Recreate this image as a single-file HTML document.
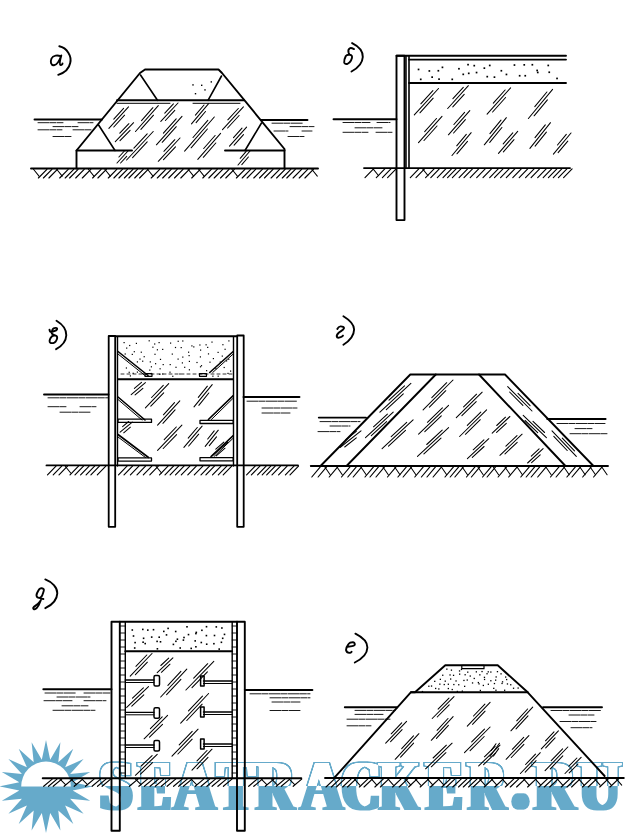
<!DOCTYPE html>
<html><head><meta charset="utf-8"><style>
html,body{margin:0;padding:0;background:#fff;}
svg{display:block;}
</style></head><body>
<svg width="632" height="833" viewBox="0 0 632 833">
<defs>
<clipPath id="top"><rect x="0" y="0" width="632" height="786"/></clipPath>
<clipPath id="bot"><rect x="0" y="786" width="632" height="60"/></clipPath>
<filter id="fat" x="-5%" y="-30%" width="110%" height="160%">
<feMorphology in="SourceAlpha" operator="dilate" radius="3 0" result="fat"/>
<feFlood flood-color="#66aaca"/>
<feComposite in2="fat" operator="in"/>
</filter>
<filter id="outl" x="-5%" y="-30%" width="110%" height="160%">
<feMorphology in="SourceAlpha" operator="dilate" radius="3 0" result="fat"/>
<feMorphology in="fat" operator="dilate" radius="1" result="fat2"/>
<feMorphology in="fat" operator="erode" radius="0.5" result="fat3"/>
<feComposite in="fat2" in2="fat" operator="out" result="ring0"/>
<feComponentTransfer in="ring0" result="ring"><feFuncA type="linear" slope="1.7"/></feComponentTransfer>
<feFlood flood-color="#66aaca"/>
<feComposite in2="ring" operator="in"/>
</filter>
</defs>
<rect width="632" height="833" fill="#fff"/>
<polygon points="46.0,739.9 50.2,759.7 60.4,742.2 58.3,762.3 73.3,748.8 65.1,767.3 83.6,759.1 70.1,774.1 90.2,772.0 72.7,782.2 92.5,786.4 72.7,790.6 90.2,800.8 70.1,798.7 83.6,813.7 65.1,805.5 73.3,824.0 58.3,810.5 60.4,830.6 50.2,813.1 46.0,832.9 41.8,813.1 31.6,830.6 33.7,810.5 18.7,824.0 26.9,805.5 8.4,813.7 21.9,798.7 1.8,800.8 19.3,790.6 -0.5,786.4 19.3,782.2 1.8,772.0 21.9,774.1 8.4,759.1 26.9,767.3 18.7,748.8 33.7,762.3 31.6,742.2 41.8,759.7" fill="#66aaca" stroke="none"/><path d="M21.2 786.4 A24.8 24.8 0 0 1 70.8 786.4 Z" fill="#fff" stroke="none"/>
<g font-family="Liberation Serif" font-weight="bold" font-size="72.8">
<g clip-path="url(#top)"><g filter="url(#outl)" fill="#000"><text transform="translate(100.09,0) scale(0.8003,1)" x="0" y="809.8">S</text><text transform="translate(139.40,0) scale(0.6379,1)" x="0" y="809.8">E</text><text transform="translate(173.56,0) scale(0.8004,1)" x="0" y="809.8">A</text><text transform="translate(217.63,0) scale(0.7451,1)" x="0" y="809.8">T</text><text transform="translate(256.30,0) scale(0.7125,1)" x="0" y="809.8">R</text><text transform="translate(300.45,0) scale(0.8082,1)" x="0" y="809.8">A</text><text transform="translate(341.89,0) scale(0.7260,1)" x="0" y="809.8">C</text><text transform="translate(379.64,0) scale(0.6838,1)" x="0" y="809.8">K</text><text transform="translate(426.47,0) scale(0.7342,1)" x="0" y="809.8">E</text><text transform="translate(468.61,0) scale(0.7048,1)" x="0" y="809.8">R</text><ellipse cx="520.5" cy="801.5" rx="6.2" ry="8.2" fill="#000"/><text transform="translate(533.91,0) scale(0.7818,1)" x="0" y="809.8">R</text><text transform="translate(579.05,0) scale(0.7870,1)" x="0" y="809.8">U</text></g></g>
<g clip-path="url(#bot)"><g filter="url(#fat)" fill="#000"><text transform="translate(100.09,0) scale(0.8003,1)" x="0" y="809.8">S</text><text transform="translate(139.40,0) scale(0.6379,1)" x="0" y="809.8">E</text><text transform="translate(173.56,0) scale(0.8004,1)" x="0" y="809.8">A</text><text transform="translate(217.63,0) scale(0.7451,1)" x="0" y="809.8">T</text><text transform="translate(256.30,0) scale(0.7125,1)" x="0" y="809.8">R</text><text transform="translate(300.45,0) scale(0.8082,1)" x="0" y="809.8">A</text><text transform="translate(341.89,0) scale(0.7260,1)" x="0" y="809.8">C</text><text transform="translate(379.64,0) scale(0.6838,1)" x="0" y="809.8">K</text><text transform="translate(426.47,0) scale(0.7342,1)" x="0" y="809.8">E</text><text transform="translate(468.61,0) scale(0.7048,1)" x="0" y="809.8">R</text><ellipse cx="520.5" cy="801.5" rx="6.2" ry="8.2" fill="#000"/><text transform="translate(533.91,0) scale(0.7818,1)" x="0" y="809.8">R</text><text transform="translate(579.05,0) scale(0.7870,1)" x="0" y="809.8">U</text></g></g>
</g>
<g stroke="#000" stroke-linecap="round" stroke-linejoin="round" fill="none">
<path d="M59.3 46.3 C67 48 72 56 70.2 63 C69 69 64 73 58.2 74.8" stroke-width="1.9" fill="none"/>
<path d="M60.5 56.2 C58 55 53 55 51.5 58.5 C50 62 51 65.5 54 65.3 C57 65 59 62 61.3 55.5 C60 60 59 64 60.5 65 C61.5 65.5 62.5 64 62.5 63.5" stroke-width="1.9" fill="none"/>
<polyline points="76.5,168.5 76.5,150.5 140.0,73.0 145.0,69.5 218.5,69.5 222.0,73.0 284.5,149.0 284.5,168.5" stroke-width="1.9" fill="none"/>
<line x1="117.0" y1="100.3" x2="244.0" y2="100.3" stroke-width="1.9"/>
<line x1="117.0" y1="103.3" x2="170.0" y2="103.3" stroke-width="1.0"/>
<line x1="193.0" y1="103.3" x2="240.0" y2="103.3" stroke-width="1.0"/>
<line x1="140.5" y1="75.0" x2="157.5" y2="100.3" stroke-width="1.6"/>
<line x1="221.5" y1="76.0" x2="208.0" y2="100.3" stroke-width="1.6"/>
<line x1="98.6" y1="125.0" x2="115.0" y2="150.5" stroke-width="1.6"/>
<line x1="261.5" y1="123.0" x2="245.0" y2="150.5" stroke-width="1.6"/>
<line x1="76.5" y1="150.5" x2="132.0" y2="150.5" stroke-width="1.9"/>
<line x1="225.0" y1="150.5" x2="284.5" y2="150.5" stroke-width="1.9"/>
<line x1="34.5" y1="119.5" x2="102.0" y2="119.5" stroke-width="1.9"/>
<line x1="38.0" y1="122.7" x2="63.0" y2="122.7" stroke-width="0.9" stroke-dasharray="11 1 6 1.2"/>
<line x1="78.0" y1="122.7" x2="93.0" y2="122.7" stroke-width="0.9" stroke-dasharray="11 1 6 1.2"/>
<line x1="53.0" y1="126.6" x2="78.0" y2="126.6" stroke-width="0.9" stroke-dasharray="11 1 6 1.2"/>
<line x1="38.0" y1="129.8" x2="62.0" y2="129.8" stroke-width="0.9" stroke-dasharray="11 1 6 1.2"/>
<line x1="73.0" y1="129.8" x2="91.0" y2="129.8" stroke-width="0.9" stroke-dasharray="11 1 6 1.2"/>
<line x1="53.0" y1="136.5" x2="72.0" y2="136.5" stroke-width="0.9" stroke-dasharray="11 1 6 1.2"/>
<line x1="261.0" y1="120.0" x2="307.5" y2="120.0" stroke-width="1.9"/>
<line x1="272.0" y1="123.2" x2="303.0" y2="123.2" stroke-width="0.9" stroke-dasharray="11 1 6 1.2"/>
<line x1="290.0" y1="126.6" x2="314.0" y2="126.6" stroke-width="0.9" stroke-dasharray="11 1 6 1.2"/>
<line x1="274.0" y1="131.0" x2="288.0" y2="131.0" stroke-width="0.9" stroke-dasharray="11 1 6 1.2"/>
<line x1="302.0" y1="131.0" x2="312.0" y2="131.0" stroke-width="0.9" stroke-dasharray="11 1 6 1.2"/>
<line x1="288.0" y1="136.5" x2="304.0" y2="136.5" stroke-width="0.9" stroke-dasharray="11 1 6 1.2"/>
<line x1="31.0" y1="168.5" x2="318.0" y2="168.5" stroke-width="1.9"/>
<line x1="33.5" y1="169.3" x2="39.0" y2="176.1" stroke-width="1.03"/>
<line x1="38.4" y1="178.0" x2="46.9" y2="169.3" stroke-width="1.15"/>
<line x1="43.4" y1="178.0" x2="51.9" y2="169.3" stroke-width="1.15"/>
<line x1="48.9" y1="178.0" x2="57.4" y2="169.3" stroke-width="1.15"/>
<line x1="56.7" y1="169.3" x2="62.2" y2="176.1" stroke-width="1.03"/>
<line x1="59.7" y1="178.0" x2="68.2" y2="169.3" stroke-width="1.15"/>
<line x1="65.2" y1="178.0" x2="73.7" y2="169.3" stroke-width="1.15"/>
<line x1="69.6" y1="178.0" x2="78.1" y2="169.3" stroke-width="1.15"/>
<line x1="75.7" y1="178.0" x2="84.2" y2="169.3" stroke-width="1.15"/>
<line x1="82.3" y1="178.0" x2="90.8" y2="169.3" stroke-width="1.15"/>
<line x1="88.4" y1="169.3" x2="93.9" y2="176.1" stroke-width="1.03"/>
<line x1="92.6" y1="178.0" x2="101.1" y2="169.3" stroke-width="1.15"/>
<line x1="97.9" y1="178.0" x2="106.4" y2="169.3" stroke-width="1.15"/>
<line x1="104.8" y1="169.3" x2="110.3" y2="176.1" stroke-width="1.03"/>
<line x1="108.3" y1="178.0" x2="116.8" y2="169.3" stroke-width="1.15"/>
<line x1="113.9" y1="178.0" x2="122.4" y2="169.3" stroke-width="1.15"/>
<line x1="118.9" y1="178.0" x2="127.4" y2="169.3" stroke-width="1.15"/>
<line x1="124.4" y1="178.0" x2="132.9" y2="169.3" stroke-width="1.15"/>
<line x1="128.9" y1="178.0" x2="137.4" y2="169.3" stroke-width="1.15"/>
<line x1="134.7" y1="178.0" x2="143.2" y2="169.3" stroke-width="1.15"/>
<line x1="139.6" y1="178.0" x2="148.1" y2="169.3" stroke-width="1.15"/>
<line x1="147.5" y1="169.3" x2="153.0" y2="176.1" stroke-width="1.03"/>
<line x1="151.2" y1="178.0" x2="159.7" y2="169.3" stroke-width="1.15"/>
<line x1="157.3" y1="178.0" x2="165.8" y2="169.3" stroke-width="1.15"/>
<line x1="162.7" y1="178.0" x2="171.2" y2="169.3" stroke-width="1.15"/>
<line x1="168.7" y1="178.0" x2="177.2" y2="169.3" stroke-width="1.15"/>
<line x1="174.5" y1="178.0" x2="183.0" y2="169.3" stroke-width="1.15"/>
<line x1="180.8" y1="178.0" x2="189.3" y2="169.3" stroke-width="1.15"/>
<line x1="188.1" y1="169.3" x2="193.6" y2="176.1" stroke-width="1.03"/>
<line x1="191.7" y1="178.0" x2="200.2" y2="169.3" stroke-width="1.15"/>
<line x1="198.6" y1="169.3" x2="204.1" y2="176.1" stroke-width="1.03"/>
<line x1="202.8" y1="178.0" x2="211.3" y2="169.3" stroke-width="1.15"/>
<line x1="208.8" y1="178.0" x2="217.3" y2="169.3" stroke-width="1.15"/>
<line x1="214.2" y1="178.0" x2="222.7" y2="169.3" stroke-width="1.15"/>
<line x1="220.5" y1="178.0" x2="229.0" y2="169.3" stroke-width="1.15"/>
<line x1="225.8" y1="178.0" x2="234.3" y2="169.3" stroke-width="1.15"/>
<line x1="231.9" y1="169.3" x2="237.4" y2="176.1" stroke-width="1.03"/>
<line x1="236.4" y1="178.0" x2="244.9" y2="169.3" stroke-width="1.15"/>
<line x1="242.2" y1="178.0" x2="250.7" y2="169.3" stroke-width="1.15"/>
<line x1="247.1" y1="178.0" x2="255.6" y2="169.3" stroke-width="1.15"/>
<line x1="253.8" y1="178.0" x2="262.3" y2="169.3" stroke-width="1.15"/>
<line x1="259.5" y1="178.0" x2="268.0" y2="169.3" stroke-width="1.15"/>
<line x1="264.5" y1="178.0" x2="273.0" y2="169.3" stroke-width="1.15"/>
<line x1="271.1" y1="178.0" x2="279.6" y2="169.3" stroke-width="1.15"/>
<line x1="276.6" y1="178.0" x2="285.1" y2="169.3" stroke-width="1.15"/>
<line x1="282.3" y1="178.0" x2="290.8" y2="169.3" stroke-width="1.15"/>
<line x1="286.8" y1="178.0" x2="295.3" y2="169.3" stroke-width="1.15"/>
<line x1="293.1" y1="178.0" x2="301.6" y2="169.3" stroke-width="1.15"/>
<line x1="299.2" y1="178.0" x2="307.7" y2="169.3" stroke-width="1.15"/>
<line x1="304.9" y1="178.0" x2="313.4" y2="169.3" stroke-width="1.15"/>
<line x1="311.8" y1="169.3" x2="317.3" y2="176.1" stroke-width="1.03"/>
<line x1="108.9" y1="128.4" x2="128.5" y2="106.9" stroke-width="1.05"/>
<line x1="113.8" y1="127.0" x2="124.6" y2="115.2" stroke-width="1.05"/>
<line x1="113.8" y1="119.1" x2="123.6" y2="108.3" stroke-width="1.05"/>
<line x1="115.3" y1="141.7" x2="133.6" y2="122.7" stroke-width="1.05"/>
<line x1="120.0" y1="140.7" x2="130.1" y2="130.3" stroke-width="1.05"/>
<line x1="119.8" y1="133.2" x2="128.9" y2="123.7" stroke-width="1.05"/>
<line x1="135.5" y1="131.5" x2="158.3" y2="105.6" stroke-width="1.05"/>
<line x1="140.9" y1="129.4" x2="153.5" y2="115.2" stroke-width="1.05"/>
<line x1="141.5" y1="120.7" x2="152.9" y2="107.7" stroke-width="1.05"/>
<line x1="126.6" y1="160.0" x2="153.2" y2="131.5" stroke-width="1.05"/>
<line x1="132.6" y1="157.6" x2="147.2" y2="141.9" stroke-width="1.05"/>
<line x1="133.9" y1="148.2" x2="147.2" y2="133.9" stroke-width="1.05"/>
<line x1="156.4" y1="144.8" x2="182.0" y2="116.4" stroke-width="1.05"/>
<line x1="162.2" y1="142.3" x2="176.3" y2="126.7" stroke-width="1.05"/>
<line x1="163.4" y1="133.1" x2="176.2" y2="118.9" stroke-width="1.05"/>
<line x1="158.3" y1="161.3" x2="180.0" y2="138.0" stroke-width="1.05"/>
<line x1="163.5" y1="159.6" x2="175.5" y2="146.8" stroke-width="1.05"/>
<line x1="163.9" y1="151.3" x2="174.8" y2="139.7" stroke-width="1.05"/>
<line x1="160.8" y1="121.4" x2="178.0" y2="103.0" stroke-width="1.05"/>
<line x1="165.4" y1="120.5" x2="174.8" y2="110.4" stroke-width="1.05"/>
<line x1="164.8" y1="113.1" x2="173.4" y2="103.9" stroke-width="1.05"/>
<line x1="191.5" y1="123.9" x2="208.6" y2="103.7" stroke-width="1.05"/>
<line x1="196.1" y1="122.6" x2="205.5" y2="111.5" stroke-width="1.05"/>
<line x1="195.4" y1="115.1" x2="204.0" y2="105.0" stroke-width="1.05"/>
<line x1="184.6" y1="151.2" x2="214.3" y2="117.0" stroke-width="1.05"/>
<line x1="191.1" y1="147.8" x2="207.4" y2="129.0" stroke-width="1.05"/>
<line x1="193.0" y1="137.5" x2="207.8" y2="120.4" stroke-width="1.05"/>
<line x1="197.8" y1="159.4" x2="220.6" y2="133.4" stroke-width="1.05"/>
<line x1="203.3" y1="157.3" x2="215.8" y2="143.0" stroke-width="1.05"/>
<line x1="203.7" y1="148.5" x2="215.1" y2="135.5" stroke-width="1.05"/>
<line x1="222.5" y1="129.6" x2="243.4" y2="106.9" stroke-width="1.05"/>
<line x1="227.6" y1="128.0" x2="239.1" y2="115.5" stroke-width="1.05"/>
<line x1="227.8" y1="119.8" x2="238.3" y2="108.5" stroke-width="1.05"/>
<line x1="229.5" y1="146.1" x2="246.6" y2="127.1" stroke-width="1.05"/>
<line x1="234.1" y1="145.1" x2="243.5" y2="134.6" stroke-width="1.05"/>
<line x1="233.5" y1="137.6" x2="242.0" y2="128.1" stroke-width="1.05"/>
<line x1="238.0" y1="165.0" x2="250.0" y2="151.0" stroke-width="1.05"/>
<line x1="241.8" y1="164.7" x2="248.4" y2="157.0" stroke-width="1.05"/>
<line x1="240.2" y1="158.3" x2="246.2" y2="151.3" stroke-width="1.05"/>
<line x1="117.0" y1="163.0" x2="128.0" y2="151.0" stroke-width="1.05"/>
<line x1="120.6" y1="163.0" x2="126.7" y2="156.4" stroke-width="1.05"/>
<line x1="118.9" y1="157.0" x2="124.4" y2="151.0" stroke-width="1.05"/>
<rect x="192.3" y="84.2" width="1.4" height="1.4" fill="#000" stroke="none"/>
<rect x="201.0" y="84.6" width="1.4" height="1.4" fill="#000" stroke="none"/>
<rect x="210.6" y="81.2" width="1.4" height="1.4" fill="#000" stroke="none"/>
<rect x="194.8" y="93.0" width="1.4" height="1.4" fill="#000" stroke="none"/>
<rect x="204.3" y="89.2" width="1.4" height="1.4" fill="#000" stroke="none"/>
<path d="M352.1 43.1 C358 46 363 51 362.8 57 C362.5 63 358 68 351.5 71.5" stroke-width="1.9" fill="none"/>
<path d="M354 49.1 C352.5 48.3 351 47.8 350.2 48.1 C348.5 48.8 347.8 50 348.6 52.6 C349 53.8 349.6 54.8 349.6 54.8 C348 54.6 346.5 55 345.8 56 C344.8 58 343.9 61 344.2 62.5 C344.6 64 346.4 64.2 347.5 63.8 C349 63.3 350 62.4 351 60.5 C352 58.5 352.3 57 352 56.2 C351.5 55.2 350.5 54.8 349.6 54.8" stroke-width="1.9" fill="none"/>
<rect x="396.5" y="55.8" width="8" height="164.3" fill="none" stroke-width="1.9"/>
<line x1="406.0" y1="56.0" x2="406.0" y2="167.5" stroke-width="1.5"/>
<line x1="409.0" y1="56.0" x2="409.0" y2="167.5" stroke-width="1.6"/>
<line x1="396.5" y1="55.8" x2="566.0" y2="55.8" stroke-width="1.9"/>
<line x1="409.0" y1="59.6" x2="566.0" y2="59.6" stroke-width="1.9"/>
<line x1="409.0" y1="83.0" x2="566.0" y2="83.0" stroke-width="1.9"/>
<rect x="417.7" y="68.6" width="1.7" height="1.7" fill="#000" stroke="none"/>
<rect x="428.5" y="70.1" width="1.7" height="1.7" fill="#000" stroke="none"/>
<rect x="437.5" y="69.9" width="1.7" height="1.7" fill="#000" stroke="none"/>
<rect x="441.6" y="66.5" width="1.7" height="1.7" fill="#000" stroke="none"/>
<rect x="458.1" y="67.9" width="1.7" height="1.7" fill="#000" stroke="none"/>
<rect x="467.2" y="63.8" width="1.7" height="1.7" fill="#000" stroke="none"/>
<rect x="473.4" y="64.8" width="1.7" height="1.7" fill="#000" stroke="none"/>
<rect x="483.5" y="67.3" width="1.7" height="1.7" fill="#000" stroke="none"/>
<rect x="488.9" y="64.6" width="1.7" height="1.7" fill="#000" stroke="none"/>
<rect x="500.5" y="69.9" width="1.7" height="1.7" fill="#000" stroke="none"/>
<rect x="513.6" y="64.2" width="1.7" height="1.7" fill="#000" stroke="none"/>
<rect x="523.4" y="64.0" width="1.7" height="1.7" fill="#000" stroke="none"/>
<rect x="531.5" y="63.9" width="1.7" height="1.7" fill="#000" stroke="none"/>
<rect x="536.3" y="69.6" width="1.7" height="1.7" fill="#000" stroke="none"/>
<rect x="547.4" y="64.6" width="1.7" height="1.7" fill="#000" stroke="none"/>
<rect x="419.9" y="78.5" width="1.7" height="1.7" fill="#000" stroke="none"/>
<rect x="431.3" y="76.3" width="1.7" height="1.7" fill="#000" stroke="none"/>
<rect x="438.2" y="78.3" width="1.7" height="1.7" fill="#000" stroke="none"/>
<rect x="451.4" y="78.5" width="1.7" height="1.7" fill="#000" stroke="none"/>
<rect x="462.4" y="73.5" width="1.7" height="1.7" fill="#000" stroke="none"/>
<rect x="467.9" y="72.5" width="1.7" height="1.7" fill="#000" stroke="none"/>
<rect x="475.7" y="71.7" width="1.7" height="1.7" fill="#000" stroke="none"/>
<rect x="486.4" y="75.8" width="1.7" height="1.7" fill="#000" stroke="none"/>
<rect x="493.6" y="76.3" width="1.7" height="1.7" fill="#000" stroke="none"/>
<rect x="505.6" y="73.6" width="1.7" height="1.7" fill="#000" stroke="none"/>
<rect x="518.8" y="74.9" width="1.7" height="1.7" fill="#000" stroke="none"/>
<rect x="524.4" y="74.9" width="1.7" height="1.7" fill="#000" stroke="none"/>
<rect x="536.9" y="71.6" width="1.7" height="1.7" fill="#000" stroke="none"/>
<rect x="548.4" y="71.4" width="1.7" height="1.7" fill="#000" stroke="none"/>
<rect x="556.2" y="77.6" width="1.7" height="1.7" fill="#000" stroke="none"/>
<line x1="333.5" y1="119.3" x2="396.5" y2="119.3" stroke-width="1.9"/>
<line x1="343.0" y1="122.5" x2="370.0" y2="122.5" stroke-width="0.9" stroke-dasharray="11 1 6 1.2"/>
<line x1="377.0" y1="122.5" x2="390.0" y2="122.5" stroke-width="0.9" stroke-dasharray="11 1 6 1.2"/>
<line x1="355.0" y1="127.8" x2="382.0" y2="127.8" stroke-width="0.9" stroke-dasharray="11 1 6 1.2"/>
<line x1="343.0" y1="132.3" x2="368.0" y2="132.3" stroke-width="0.9" stroke-dasharray="11 1 6 1.2"/>
<line x1="376.0" y1="132.3" x2="392.0" y2="132.3" stroke-width="0.9" stroke-dasharray="11 1 6 1.2"/>
<line x1="364.0" y1="168.1" x2="570.0" y2="168.1" stroke-width="1.9"/>
<line x1="365.0" y1="177.6" x2="373.5" y2="168.9" stroke-width="1.15"/>
<line x1="373.1" y1="168.9" x2="378.6" y2="175.7" stroke-width="1.03"/>
<line x1="376.3" y1="177.6" x2="384.8" y2="168.9" stroke-width="1.15"/>
<line x1="382.4" y1="177.6" x2="390.9" y2="168.9" stroke-width="1.15"/>
<line x1="387.6" y1="177.6" x2="396.1" y2="168.9" stroke-width="1.15"/>
<line x1="410.3" y1="177.6" x2="418.8" y2="168.9" stroke-width="1.15"/>
<line x1="416.0" y1="177.6" x2="424.5" y2="168.9" stroke-width="1.15"/>
<line x1="422.6" y1="168.9" x2="428.1" y2="175.7" stroke-width="1.03"/>
<line x1="425.6" y1="177.6" x2="434.1" y2="168.9" stroke-width="1.15"/>
<line x1="430.8" y1="177.6" x2="439.3" y2="168.9" stroke-width="1.15"/>
<line x1="437.3" y1="177.6" x2="445.8" y2="168.9" stroke-width="1.15"/>
<line x1="443.0" y1="177.6" x2="451.5" y2="168.9" stroke-width="1.15"/>
<line x1="447.6" y1="177.6" x2="456.1" y2="168.9" stroke-width="1.15"/>
<line x1="452.4" y1="177.6" x2="460.9" y2="168.9" stroke-width="1.15"/>
<line x1="459.1" y1="177.6" x2="467.6" y2="168.9" stroke-width="1.15"/>
<line x1="464.0" y1="177.6" x2="472.5" y2="168.9" stroke-width="1.15"/>
<line x1="470.2" y1="177.6" x2="478.7" y2="168.9" stroke-width="1.15"/>
<line x1="476.7" y1="177.6" x2="485.2" y2="168.9" stroke-width="1.15"/>
<line x1="483.0" y1="177.6" x2="491.5" y2="168.9" stroke-width="1.15"/>
<line x1="489.7" y1="177.6" x2="498.2" y2="168.9" stroke-width="1.15"/>
<line x1="494.5" y1="177.6" x2="503.0" y2="168.9" stroke-width="1.15"/>
<line x1="500.6" y1="177.6" x2="509.1" y2="168.9" stroke-width="1.15"/>
<line x1="506.3" y1="177.6" x2="514.8" y2="168.9" stroke-width="1.15"/>
<line x1="512.8" y1="177.6" x2="521.3" y2="168.9" stroke-width="1.15"/>
<line x1="519.2" y1="177.6" x2="527.7" y2="168.9" stroke-width="1.15"/>
<line x1="525.6" y1="177.6" x2="534.1" y2="168.9" stroke-width="1.15"/>
<line x1="531.1" y1="177.6" x2="539.6" y2="168.9" stroke-width="1.15"/>
<line x1="537.7" y1="177.6" x2="546.2" y2="168.9" stroke-width="1.15"/>
<line x1="543.2" y1="177.6" x2="551.7" y2="168.9" stroke-width="1.15"/>
<line x1="548.4" y1="177.6" x2="556.9" y2="168.9" stroke-width="1.15"/>
<line x1="553.3" y1="177.6" x2="561.8" y2="168.9" stroke-width="1.15"/>
<line x1="558.4" y1="177.6" x2="566.9" y2="168.9" stroke-width="1.15"/>
<line x1="563.6" y1="177.6" x2="572.1" y2="168.9" stroke-width="1.15"/>
<line x1="414.3" y1="114.9" x2="438.5" y2="88.5" stroke-width="1.05"/>
<line x1="419.9" y1="112.8" x2="433.2" y2="98.2" stroke-width="1.05"/>
<line x1="420.8" y1="103.8" x2="432.9" y2="90.6" stroke-width="1.05"/>
<line x1="447.7" y1="108.5" x2="468.4" y2="85.7" stroke-width="1.05"/>
<line x1="452.8" y1="106.9" x2="464.2" y2="94.4" stroke-width="1.05"/>
<line x1="452.9" y1="98.7" x2="463.3" y2="87.3" stroke-width="1.05"/>
<line x1="418.5" y1="142.7" x2="442.0" y2="116.3" stroke-width="1.05"/>
<line x1="424.0" y1="140.5" x2="437.0" y2="126.0" stroke-width="1.05"/>
<line x1="424.7" y1="131.7" x2="436.5" y2="118.5" stroke-width="1.05"/>
<line x1="448.4" y1="134.8" x2="469.8" y2="110.6" stroke-width="1.05"/>
<line x1="453.6" y1="133.0" x2="465.4" y2="119.6" stroke-width="1.05"/>
<line x1="453.9" y1="124.5" x2="464.6" y2="112.4" stroke-width="1.05"/>
<line x1="452.0" y1="155.5" x2="471.2" y2="132.7" stroke-width="1.05"/>
<line x1="456.9" y1="153.8" x2="467.5" y2="141.3" stroke-width="1.05"/>
<line x1="456.7" y1="145.8" x2="466.3" y2="134.4" stroke-width="1.05"/>
<line x1="487.1" y1="114.2" x2="510.6" y2="87.8" stroke-width="1.05"/>
<line x1="492.6" y1="112.0" x2="505.6" y2="97.5" stroke-width="1.05"/>
<line x1="493.3" y1="103.2" x2="505.1" y2="90.0" stroke-width="1.05"/>
<line x1="528.4" y1="118.5" x2="552.6" y2="89.3" stroke-width="1.05"/>
<line x1="534.1" y1="115.8" x2="547.4" y2="99.8" stroke-width="1.05"/>
<line x1="534.8" y1="106.6" x2="546.9" y2="92.0" stroke-width="1.05"/>
<line x1="484.3" y1="144.8" x2="506.4" y2="117.7" stroke-width="1.05"/>
<line x1="489.7" y1="142.4" x2="501.9" y2="127.5" stroke-width="1.05"/>
<line x1="489.9" y1="133.6" x2="501.0" y2="120.1" stroke-width="1.05"/>
<line x1="498.5" y1="153.4" x2="517.7" y2="131.3" stroke-width="1.05"/>
<line x1="503.4" y1="151.9" x2="514.0" y2="139.7" stroke-width="1.05"/>
<line x1="503.2" y1="143.9" x2="512.8" y2="132.8" stroke-width="1.05"/>
<line x1="529.9" y1="148.4" x2="550.5" y2="122.7" stroke-width="1.05"/>
<line x1="535.1" y1="146.2" x2="546.4" y2="132.1" stroke-width="1.05"/>
<line x1="535.0" y1="137.7" x2="545.3" y2="124.9" stroke-width="1.05"/>
<line x1="553.4" y1="154.1" x2="571.0" y2="133.0" stroke-width="1.05"/>
<line x1="558.1" y1="152.7" x2="567.8" y2="141.1" stroke-width="1.05"/>
<line x1="557.5" y1="145.0" x2="566.3" y2="134.4" stroke-width="1.05"/>
<path d="M56.5 320.7 C62 324 66.5 329 66.3 335.3 C66 342 62 346 56.1 349.2" stroke-width="1.9" fill="none"/>
<path d="M49.5 329.6 C49.6 331 50.1 331.8 51 331.8 C53 331.8 57.5 330.5 57.1 328.6 C56.8 327.5 54.5 327.8 53.6 328.3 C52.5 329 51.8 331.5 51.8 333.5 C52.5 334.8 55 335 56.5 336 C57.5 337 57 339.5 55.8 341.3 C54.5 343 52 343.6 50.5 342.8 C49 342 49.5 340 50.6 338 C51.5 336.5 53 335.6 54 335.5" stroke-width="1.9" fill="none"/>
<rect x="108.7" y="336" width="6.5" height="190.8" fill="none" stroke-width="1.8"/>
<rect x="237.2" y="335.5" width="6.5" height="191.3" fill="none" stroke-width="1.8"/>
<line x1="117.5" y1="337.0" x2="117.5" y2="466.0" stroke-width="1.4"/>
<line x1="233.5" y1="337.0" x2="233.5" y2="466.0" stroke-width="1.4"/>
<line x1="115.5" y1="336.2" x2="236.5" y2="336.2" stroke-width="1.9"/>
<line x1="118.0" y1="379.3" x2="233.0" y2="379.3" stroke-width="1.9"/>
<rect x="123.5" y="342.0" width="1.2" height="1.2" fill="#000" stroke="none"/>
<rect x="129.1" y="344.9" width="1.2" height="1.2" fill="#000" stroke="none"/>
<rect x="135.8" y="342.8" width="1.2" height="1.2" fill="#000" stroke="none"/>
<rect x="148.6" y="340.2" width="1.2" height="1.2" fill="#000" stroke="none"/>
<rect x="154.1" y="343.4" width="1.2" height="1.2" fill="#000" stroke="none"/>
<rect x="158.5" y="342.0" width="1.2" height="1.2" fill="#000" stroke="none"/>
<rect x="170.0" y="342.5" width="1.2" height="1.2" fill="#000" stroke="none"/>
<rect x="177.6" y="340.7" width="1.2" height="1.2" fill="#000" stroke="none"/>
<rect x="182.2" y="340.4" width="1.2" height="1.2" fill="#000" stroke="none"/>
<rect x="191.3" y="345.3" width="1.2" height="1.2" fill="#000" stroke="none"/>
<rect x="199.3" y="344.4" width="1.2" height="1.2" fill="#000" stroke="none"/>
<rect x="205.5" y="344.2" width="1.2" height="1.2" fill="#000" stroke="none"/>
<rect x="211.4" y="341.5" width="1.2" height="1.2" fill="#000" stroke="none"/>
<rect x="222.3" y="344.1" width="1.2" height="1.2" fill="#000" stroke="none"/>
<rect x="228.3" y="340.3" width="1.2" height="1.2" fill="#000" stroke="none"/>
<rect x="126.1" y="347.5" width="1.2" height="1.2" fill="#000" stroke="none"/>
<rect x="133.7" y="351.1" width="1.2" height="1.2" fill="#000" stroke="none"/>
<rect x="140.7" y="351.6" width="1.2" height="1.2" fill="#000" stroke="none"/>
<rect x="152.3" y="346.6" width="1.2" height="1.2" fill="#000" stroke="none"/>
<rect x="156.8" y="349.2" width="1.2" height="1.2" fill="#000" stroke="none"/>
<rect x="162.1" y="348.8" width="1.2" height="1.2" fill="#000" stroke="none"/>
<rect x="174.9" y="346.9" width="1.2" height="1.2" fill="#000" stroke="none"/>
<rect x="180.6" y="347.0" width="1.2" height="1.2" fill="#000" stroke="none"/>
<rect x="188.0" y="351.6" width="1.2" height="1.2" fill="#000" stroke="none"/>
<rect x="193.2" y="346.3" width="1.2" height="1.2" fill="#000" stroke="none"/>
<rect x="200.0" y="349.5" width="1.2" height="1.2" fill="#000" stroke="none"/>
<rect x="207.1" y="346.8" width="1.2" height="1.2" fill="#000" stroke="none"/>
<rect x="217.5" y="351.8" width="1.2" height="1.2" fill="#000" stroke="none"/>
<rect x="224.5" y="348.7" width="1.2" height="1.2" fill="#000" stroke="none"/>
<rect x="124.6" y="353.4" width="1.2" height="1.2" fill="#000" stroke="none"/>
<rect x="131.7" y="353.8" width="1.2" height="1.2" fill="#000" stroke="none"/>
<rect x="139.4" y="358.5" width="1.2" height="1.2" fill="#000" stroke="none"/>
<rect x="143.6" y="356.1" width="1.2" height="1.2" fill="#000" stroke="none"/>
<rect x="154.4" y="353.7" width="1.2" height="1.2" fill="#000" stroke="none"/>
<rect x="159.9" y="358.8" width="1.2" height="1.2" fill="#000" stroke="none"/>
<rect x="171.7" y="353.5" width="1.2" height="1.2" fill="#000" stroke="none"/>
<rect x="177.5" y="358.5" width="1.2" height="1.2" fill="#000" stroke="none"/>
<rect x="182.2" y="356.5" width="1.2" height="1.2" fill="#000" stroke="none"/>
<rect x="188.5" y="355.0" width="1.2" height="1.2" fill="#000" stroke="none"/>
<rect x="199.8" y="356.3" width="1.2" height="1.2" fill="#000" stroke="none"/>
<rect x="207.9" y="353.3" width="1.2" height="1.2" fill="#000" stroke="none"/>
<rect x="212.8" y="358.0" width="1.2" height="1.2" fill="#000" stroke="none"/>
<rect x="221.7" y="355.5" width="1.2" height="1.2" fill="#000" stroke="none"/>
<rect x="228.2" y="358.7" width="1.2" height="1.2" fill="#000" stroke="none"/>
<rect x="127.9" y="359.4" width="1.2" height="1.2" fill="#000" stroke="none"/>
<rect x="136.8" y="361.3" width="1.2" height="1.2" fill="#000" stroke="none"/>
<rect x="142.1" y="360.6" width="1.2" height="1.2" fill="#000" stroke="none"/>
<rect x="149.7" y="361.3" width="1.2" height="1.2" fill="#000" stroke="none"/>
<rect x="155.0" y="363.1" width="1.2" height="1.2" fill="#000" stroke="none"/>
<rect x="162.6" y="364.0" width="1.2" height="1.2" fill="#000" stroke="none"/>
<rect x="169.6" y="364.0" width="1.2" height="1.2" fill="#000" stroke="none"/>
<rect x="181.8" y="362.3" width="1.2" height="1.2" fill="#000" stroke="none"/>
<rect x="188.8" y="360.8" width="1.2" height="1.2" fill="#000" stroke="none"/>
<rect x="196.4" y="361.9" width="1.2" height="1.2" fill="#000" stroke="none"/>
<rect x="200.9" y="365.1" width="1.2" height="1.2" fill="#000" stroke="none"/>
<rect x="209.4" y="361.6" width="1.2" height="1.2" fill="#000" stroke="none"/>
<rect x="219.7" y="361.5" width="1.2" height="1.2" fill="#000" stroke="none"/>
<rect x="226.0" y="360.3" width="1.2" height="1.2" fill="#000" stroke="none"/>
<rect x="125.8" y="367.4" width="1.2" height="1.2" fill="#000" stroke="none"/>
<rect x="128.6" y="371.7" width="1.2" height="1.2" fill="#000" stroke="none"/>
<rect x="136.8" y="371.5" width="1.2" height="1.2" fill="#000" stroke="none"/>
<rect x="149.2" y="369.5" width="1.2" height="1.2" fill="#000" stroke="none"/>
<rect x="150.8" y="366.2" width="1.2" height="1.2" fill="#000" stroke="none"/>
<rect x="159.5" y="368.2" width="1.2" height="1.2" fill="#000" stroke="none"/>
<rect x="169.4" y="371.6" width="1.2" height="1.2" fill="#000" stroke="none"/>
<rect x="175.4" y="366.7" width="1.2" height="1.2" fill="#000" stroke="none"/>
<rect x="184.1" y="366.7" width="1.2" height="1.2" fill="#000" stroke="none"/>
<rect x="188.8" y="369.2" width="1.2" height="1.2" fill="#000" stroke="none"/>
<rect x="199.9" y="366.2" width="1.2" height="1.2" fill="#000" stroke="none"/>
<rect x="206.0" y="370.1" width="1.2" height="1.2" fill="#000" stroke="none"/>
<rect x="215.3" y="368.1" width="1.2" height="1.2" fill="#000" stroke="none"/>
<rect x="223.6" y="366.9" width="1.2" height="1.2" fill="#000" stroke="none"/>
<rect x="230.0" y="370.5" width="1.2" height="1.2" fill="#000" stroke="none"/>
<rect x="129.8" y="375.3" width="1.2" height="1.2" fill="#000" stroke="none"/>
<rect x="132.6" y="372.7" width="1.2" height="1.2" fill="#000" stroke="none"/>
<rect x="142.7" y="373.4" width="1.2" height="1.2" fill="#000" stroke="none"/>
<rect x="150.8" y="372.9" width="1.2" height="1.2" fill="#000" stroke="none"/>
<rect x="159.2" y="373.7" width="1.2" height="1.2" fill="#000" stroke="none"/>
<rect x="162.1" y="373.4" width="1.2" height="1.2" fill="#000" stroke="none"/>
<rect x="172.2" y="375.7" width="1.2" height="1.2" fill="#000" stroke="none"/>
<rect x="179.3" y="373.4" width="1.2" height="1.2" fill="#000" stroke="none"/>
<rect x="212.3" y="375.6" width="1.2" height="1.2" fill="#000" stroke="none"/>
<rect x="217.6" y="375.6" width="1.2" height="1.2" fill="#000" stroke="none"/>
<rect x="227.4" y="372.8" width="1.2" height="1.2" fill="#000" stroke="none"/>
<line x1="121.0" y1="374.0" x2="124.0" y2="374.0" stroke-width="0.8"/>
<line x1="127.0" y1="374.0" x2="130.0" y2="374.0" stroke-width="0.8"/>
<line x1="133.0" y1="374.0" x2="136.0" y2="374.0" stroke-width="0.8"/>
<line x1="139.0" y1="374.0" x2="142.0" y2="374.0" stroke-width="0.8"/>
<line x1="145.0" y1="374.0" x2="148.0" y2="374.0" stroke-width="0.8"/>
<line x1="151.0" y1="374.0" x2="154.0" y2="374.0" stroke-width="0.8"/>
<line x1="157.0" y1="374.0" x2="160.0" y2="374.0" stroke-width="0.8"/>
<line x1="163.0" y1="374.0" x2="166.0" y2="374.0" stroke-width="0.8"/>
<line x1="169.0" y1="374.0" x2="172.0" y2="374.0" stroke-width="0.8"/>
<line x1="175.0" y1="374.0" x2="178.0" y2="374.0" stroke-width="0.8"/>
<line x1="181.0" y1="374.0" x2="184.0" y2="374.0" stroke-width="0.8"/>
<line x1="187.0" y1="374.0" x2="190.0" y2="374.0" stroke-width="0.8"/>
<line x1="193.0" y1="374.0" x2="196.0" y2="374.0" stroke-width="0.8"/>
<line x1="199.0" y1="374.0" x2="202.0" y2="374.0" stroke-width="0.8"/>
<line x1="205.0" y1="374.0" x2="208.0" y2="374.0" stroke-width="0.8"/>
<line x1="211.0" y1="374.0" x2="214.0" y2="374.0" stroke-width="0.8"/>
<line x1="217.0" y1="374.0" x2="220.0" y2="374.0" stroke-width="0.8"/>
<line x1="223.0" y1="374.0" x2="226.0" y2="374.0" stroke-width="0.8"/>
<line x1="229.0" y1="374.0" x2="232.0" y2="374.0" stroke-width="0.8"/>
<line x1="118.0" y1="351.5" x2="148.0" y2="375.5" stroke-width="1.6"/>
<line x1="118.0" y1="354.0" x2="145.0" y2="375.5" stroke-width="1.0"/>
<line x1="118.0" y1="397.0" x2="145.0" y2="420.0" stroke-width="1.6"/>
<line x1="118.0" y1="399.5" x2="142.0" y2="420.0" stroke-width="1.0"/>
<line x1="118.0" y1="434.5" x2="148.5" y2="457.5" stroke-width="1.6"/>
<line x1="118.0" y1="437.0" x2="145.5" y2="457.5" stroke-width="1.0"/>
<rect x="118" y="419.2" width="33.5" height="3.2" fill="none" stroke-width="1.3"/>
<rect x="118" y="457.9" width="33.5" height="3.2" fill="none" stroke-width="1.3"/>
<rect x="145" y="373.7" width="7" height="2.6" fill="none" stroke-width="1.2"/>
<line x1="233.2" y1="351.5" x2="209.7" y2="372.5" stroke-width="1.6"/>
<line x1="233.2" y1="354.0" x2="212.7" y2="372.5" stroke-width="1.0"/>
<line x1="233.2" y1="395.7" x2="208.4" y2="419.5" stroke-width="1.6"/>
<line x1="233.2" y1="398.2" x2="211.4" y2="419.5" stroke-width="1.0"/>
<line x1="233.2" y1="435.7" x2="211.0" y2="456.5" stroke-width="1.6"/>
<line x1="233.2" y1="438.2" x2="214.0" y2="456.5" stroke-width="1.0"/>
<rect x="200" y="420.3" width="33.2" height="3.2" fill="none" stroke-width="1.3"/>
<rect x="200" y="457.6" width="33.2" height="3.2" fill="none" stroke-width="1.3"/>
<rect x="199.5" y="373.7" width="7" height="2.6" fill="none" stroke-width="1.2"/>
<line x1="44.0" y1="394.5" x2="108.5" y2="394.5" stroke-width="1.9"/>
<line x1="48.0" y1="397.8" x2="108.0" y2="397.8" stroke-width="0.9" stroke-dasharray="11 1 6 1.2"/>
<line x1="48.0" y1="406.7" x2="66.0" y2="406.7" stroke-width="0.9" stroke-dasharray="11 1 6 1.2"/>
<line x1="80.0" y1="406.7" x2="96.0" y2="406.7" stroke-width="0.9" stroke-dasharray="11 1 6 1.2"/>
<line x1="60.0" y1="412.2" x2="90.0" y2="412.2" stroke-width="0.9" stroke-dasharray="11 1 6 1.2"/>
<line x1="243.5" y1="397.0" x2="299.5" y2="397.0" stroke-width="1.9"/>
<line x1="247.0" y1="401.2" x2="297.0" y2="401.2" stroke-width="0.9" stroke-dasharray="11 1 6 1.2"/>
<line x1="262.0" y1="408.0" x2="297.0" y2="408.0" stroke-width="0.9" stroke-dasharray="11 1 6 1.2"/>
<line x1="262.0" y1="413.0" x2="290.0" y2="413.0" stroke-width="0.9" stroke-dasharray="11 1 6 1.2"/>
<line x1="46.5" y1="465.4" x2="298.0" y2="465.4" stroke-width="1.9"/>
<line x1="47.5" y1="474.9" x2="56.0" y2="466.2" stroke-width="1.15"/>
<line x1="53.2" y1="474.9" x2="61.7" y2="466.2" stroke-width="1.15"/>
<line x1="59.0" y1="474.9" x2="67.5" y2="466.2" stroke-width="1.15"/>
<line x1="65.2" y1="466.2" x2="70.7" y2="473.0" stroke-width="1.03"/>
<line x1="70.0" y1="474.9" x2="78.5" y2="466.2" stroke-width="1.15"/>
<line x1="75.0" y1="474.9" x2="83.5" y2="466.2" stroke-width="1.15"/>
<line x1="80.6" y1="474.9" x2="89.1" y2="466.2" stroke-width="1.15"/>
<line x1="86.1" y1="474.9" x2="94.6" y2="466.2" stroke-width="1.15"/>
<line x1="90.9" y1="474.9" x2="99.4" y2="466.2" stroke-width="1.15"/>
<line x1="97.3" y1="474.9" x2="105.8" y2="466.2" stroke-width="1.15"/>
<line x1="118.5" y1="474.9" x2="127.0" y2="466.2" stroke-width="1.15"/>
<line x1="124.0" y1="474.9" x2="132.5" y2="466.2" stroke-width="1.15"/>
<line x1="130.4" y1="474.9" x2="138.9" y2="466.2" stroke-width="1.15"/>
<line x1="137.0" y1="474.9" x2="145.5" y2="466.2" stroke-width="1.15"/>
<line x1="143.3" y1="474.9" x2="151.8" y2="466.2" stroke-width="1.15"/>
<line x1="149.8" y1="474.9" x2="158.3" y2="466.2" stroke-width="1.15"/>
<line x1="156.0" y1="466.2" x2="161.5" y2="473.0" stroke-width="1.03"/>
<line x1="159.5" y1="474.9" x2="168.0" y2="466.2" stroke-width="1.15"/>
<line x1="165.0" y1="474.9" x2="173.5" y2="466.2" stroke-width="1.15"/>
<line x1="170.1" y1="474.9" x2="178.6" y2="466.2" stroke-width="1.15"/>
<line x1="175.5" y1="474.9" x2="184.0" y2="466.2" stroke-width="1.15"/>
<line x1="181.3" y1="474.9" x2="189.8" y2="466.2" stroke-width="1.15"/>
<line x1="187.8" y1="474.9" x2="196.3" y2="466.2" stroke-width="1.15"/>
<line x1="194.3" y1="474.9" x2="202.8" y2="466.2" stroke-width="1.15"/>
<line x1="201.0" y1="474.9" x2="209.5" y2="466.2" stroke-width="1.15"/>
<line x1="205.9" y1="474.9" x2="214.4" y2="466.2" stroke-width="1.15"/>
<line x1="212.5" y1="474.9" x2="221.0" y2="466.2" stroke-width="1.15"/>
<line x1="218.3" y1="474.9" x2="226.8" y2="466.2" stroke-width="1.15"/>
<line x1="223.2" y1="474.9" x2="231.7" y2="466.2" stroke-width="1.15"/>
<line x1="246.6" y1="474.9" x2="255.1" y2="466.2" stroke-width="1.15"/>
<line x1="251.4" y1="474.9" x2="259.9" y2="466.2" stroke-width="1.15"/>
<line x1="257.6" y1="474.9" x2="266.1" y2="466.2" stroke-width="1.15"/>
<line x1="262.2" y1="474.9" x2="270.7" y2="466.2" stroke-width="1.15"/>
<line x1="266.7" y1="474.9" x2="275.2" y2="466.2" stroke-width="1.15"/>
<line x1="272.0" y1="474.9" x2="280.5" y2="466.2" stroke-width="1.15"/>
<line x1="278.6" y1="474.9" x2="287.1" y2="466.2" stroke-width="1.15"/>
<line x1="285.4" y1="474.9" x2="293.9" y2="466.2" stroke-width="1.15"/>
<line x1="290.0" y1="474.9" x2="298.5" y2="466.2" stroke-width="1.15"/>
<line x1="131.2" y1="394.7" x2="145.4" y2="382.6" stroke-width="1.05"/>
<line x1="135.1" y1="394.9" x2="142.9" y2="388.3" stroke-width="1.05"/>
<line x1="134.4" y1="388.4" x2="141.5" y2="382.4" stroke-width="1.05"/>
<line x1="145.4" y1="407.9" x2="168.7" y2="383.6" stroke-width="1.05"/>
<line x1="150.8" y1="406.1" x2="163.7" y2="392.8" stroke-width="1.05"/>
<line x1="151.6" y1="397.5" x2="163.3" y2="385.4" stroke-width="1.05"/>
<line x1="157.6" y1="425.1" x2="179.8" y2="400.8" stroke-width="1.05"/>
<line x1="162.9" y1="423.3" x2="175.1" y2="409.9" stroke-width="1.05"/>
<line x1="163.4" y1="414.8" x2="174.5" y2="402.6" stroke-width="1.05"/>
<line x1="157.6" y1="450.4" x2="181.9" y2="425.1" stroke-width="1.05"/>
<line x1="163.2" y1="448.5" x2="176.6" y2="434.6" stroke-width="1.05"/>
<line x1="164.2" y1="439.7" x2="176.3" y2="427.0" stroke-width="1.05"/>
<line x1="194.0" y1="406.9" x2="212.2" y2="384.6" stroke-width="1.05"/>
<line x1="198.8" y1="405.3" x2="208.8" y2="393.0" stroke-width="1.05"/>
<line x1="198.3" y1="397.4" x2="207.4" y2="386.2" stroke-width="1.05"/>
<line x1="183.9" y1="447.4" x2="202.1" y2="426.1" stroke-width="1.05"/>
<line x1="188.7" y1="446.0" x2="198.7" y2="434.2" stroke-width="1.05"/>
<line x1="188.2" y1="438.2" x2="197.3" y2="427.5" stroke-width="1.05"/>
<line x1="205.2" y1="446.4" x2="218.3" y2="430.2" stroke-width="1.05"/>
<line x1="209.3" y1="445.7" x2="216.5" y2="436.8" stroke-width="1.05"/>
<line x1="207.7" y1="439.0" x2="214.2" y2="430.9" stroke-width="1.05"/>
<line x1="120.1" y1="432.2" x2="132.3" y2="422.1" stroke-width="1.05"/>
<line x1="123.7" y1="432.8" x2="130.4" y2="427.2" stroke-width="1.05"/>
<line x1="122.6" y1="426.6" x2="128.7" y2="421.5" stroke-width="1.05"/>
<line x1="212.0" y1="456.0" x2="228.0" y2="442.0" stroke-width="1.05"/>
<line x1="216.2" y1="455.9" x2="225.0" y2="448.2" stroke-width="1.05"/>
<line x1="215.8" y1="449.1" x2="223.8" y2="442.1" stroke-width="1.05"/>
<path d="M343.4 316.3 C349.5 320 354.2 324 354.1 329.6 C354 336 349.5 341 343.4 344.8" stroke-width="1.9" fill="none"/>
<path d="M337.3 329 C338 327.5 339 326.5 340.5 326.4 C342.5 326.3 344.3 327 344 328.3 C343.5 330.3 340 331.5 338.5 333 C337 334.5 336.5 336.5 337.2 337.4 C338.3 338.2 341.5 337.3 343 335.6" stroke-width="1.9" fill="none"/>
<polyline points="321.0,465.5 410.3,374.5 505.0,374.5 593.0,465.5" stroke-width="1.9" fill="none"/>
<line x1="435.8" y1="374.5" x2="347.0" y2="465.5" stroke-width="1.9"/>
<line x1="479.0" y1="374.5" x2="565.0" y2="465.5" stroke-width="1.9"/>
<line x1="318.8" y1="417.6" x2="366.0" y2="417.6" stroke-width="1.9"/>
<line x1="320.0" y1="421.6" x2="360.0" y2="421.6" stroke-width="0.9" stroke-dasharray="11 1 6 1.2"/>
<line x1="330.0" y1="426.0" x2="350.0" y2="426.0" stroke-width="0.9" stroke-dasharray="11 1 6 1.2"/>
<line x1="318.0" y1="431.6" x2="340.0" y2="431.6" stroke-width="0.9" stroke-dasharray="11 1 6 1.2"/>
<line x1="547.3" y1="419.0" x2="605.6" y2="419.0" stroke-width="1.9"/>
<line x1="557.0" y1="423.5" x2="605.0" y2="423.5" stroke-width="0.9" stroke-dasharray="11 1 6 1.2"/>
<line x1="575.0" y1="428.6" x2="592.0" y2="428.6" stroke-width="0.9" stroke-dasharray="11 1 6 1.2"/>
<line x1="570.0" y1="433.7" x2="607.0" y2="433.7" stroke-width="0.9" stroke-dasharray="11 1 6 1.2"/>
<line x1="310.8" y1="466.0" x2="608.0" y2="466.0" stroke-width="1.9"/>
<line x1="311.8" y1="477.0" x2="320.3" y2="466.8" stroke-width="1.15"/>
<line x1="318.1" y1="477.0" x2="326.6" y2="466.8" stroke-width="1.15"/>
<line x1="324.7" y1="466.8" x2="330.2" y2="474.8" stroke-width="1.03"/>
<line x1="329.2" y1="477.0" x2="337.7" y2="466.8" stroke-width="1.15"/>
<line x1="336.8" y1="466.8" x2="342.3" y2="474.8" stroke-width="1.03"/>
<line x1="341.5" y1="477.0" x2="350.0" y2="466.8" stroke-width="1.15"/>
<line x1="347.8" y1="477.0" x2="356.3" y2="466.8" stroke-width="1.15"/>
<line x1="353.2" y1="477.0" x2="361.7" y2="466.8" stroke-width="1.15"/>
<line x1="360.7" y1="466.8" x2="366.2" y2="474.8" stroke-width="1.03"/>
<line x1="365.0" y1="477.0" x2="373.5" y2="466.8" stroke-width="1.15"/>
<line x1="370.0" y1="477.0" x2="378.5" y2="466.8" stroke-width="1.15"/>
<line x1="376.0" y1="477.0" x2="384.5" y2="466.8" stroke-width="1.15"/>
<line x1="382.8" y1="466.8" x2="388.3" y2="474.8" stroke-width="1.03"/>
<line x1="387.5" y1="477.0" x2="396.0" y2="466.8" stroke-width="1.15"/>
<line x1="394.5" y1="466.8" x2="400.0" y2="474.8" stroke-width="1.03"/>
<line x1="397.9" y1="477.0" x2="406.4" y2="466.8" stroke-width="1.15"/>
<line x1="403.1" y1="477.0" x2="411.6" y2="466.8" stroke-width="1.15"/>
<line x1="410.4" y1="466.8" x2="415.9" y2="474.8" stroke-width="1.03"/>
<line x1="414.8" y1="477.0" x2="423.3" y2="466.8" stroke-width="1.15"/>
<line x1="421.4" y1="477.0" x2="429.9" y2="466.8" stroke-width="1.15"/>
<line x1="427.0" y1="477.0" x2="435.5" y2="466.8" stroke-width="1.15"/>
<line x1="433.1" y1="477.0" x2="441.6" y2="466.8" stroke-width="1.15"/>
<line x1="441.2" y1="466.8" x2="446.7" y2="474.8" stroke-width="1.03"/>
<line x1="445.0" y1="477.0" x2="453.5" y2="466.8" stroke-width="1.15"/>
<line x1="450.2" y1="477.0" x2="458.7" y2="466.8" stroke-width="1.15"/>
<line x1="454.9" y1="477.0" x2="463.4" y2="466.8" stroke-width="1.15"/>
<line x1="462.0" y1="466.8" x2="467.5" y2="474.8" stroke-width="1.03"/>
<line x1="466.5" y1="477.0" x2="475.0" y2="466.8" stroke-width="1.15"/>
<line x1="471.4" y1="477.0" x2="479.9" y2="466.8" stroke-width="1.15"/>
<line x1="477.7" y1="466.8" x2="483.2" y2="474.8" stroke-width="1.03"/>
<line x1="482.6" y1="477.0" x2="491.1" y2="466.8" stroke-width="1.15"/>
<line x1="487.1" y1="477.0" x2="495.6" y2="466.8" stroke-width="1.15"/>
<line x1="493.1" y1="466.8" x2="498.6" y2="474.8" stroke-width="1.03"/>
<line x1="498.1" y1="477.0" x2="506.6" y2="466.8" stroke-width="1.15"/>
<line x1="504.8" y1="466.8" x2="510.3" y2="474.8" stroke-width="1.03"/>
<line x1="508.7" y1="477.0" x2="517.2" y2="466.8" stroke-width="1.15"/>
<line x1="516.9" y1="466.8" x2="522.4" y2="474.8" stroke-width="1.03"/>
<line x1="520.8" y1="477.0" x2="529.3" y2="466.8" stroke-width="1.15"/>
<line x1="526.2" y1="477.0" x2="534.7" y2="466.8" stroke-width="1.15"/>
<line x1="531.2" y1="477.0" x2="539.7" y2="466.8" stroke-width="1.15"/>
<line x1="537.7" y1="477.0" x2="546.2" y2="466.8" stroke-width="1.15"/>
<line x1="545.7" y1="466.8" x2="551.2" y2="474.8" stroke-width="1.03"/>
<line x1="550.5" y1="477.0" x2="559.0" y2="466.8" stroke-width="1.15"/>
<line x1="556.1" y1="477.0" x2="564.6" y2="466.8" stroke-width="1.15"/>
<line x1="563.7" y1="466.8" x2="569.2" y2="474.8" stroke-width="1.03"/>
<line x1="566.9" y1="477.0" x2="575.4" y2="466.8" stroke-width="1.15"/>
<line x1="572.0" y1="477.0" x2="580.5" y2="466.8" stroke-width="1.15"/>
<line x1="579.7" y1="466.8" x2="585.2" y2="474.8" stroke-width="1.03"/>
<line x1="582.7" y1="477.0" x2="591.2" y2="466.8" stroke-width="1.15"/>
<line x1="590.0" y1="466.8" x2="595.5" y2="474.8" stroke-width="1.03"/>
<line x1="593.6" y1="477.0" x2="602.1" y2="466.8" stroke-width="1.15"/>
<line x1="601.6" y1="466.8" x2="607.1" y2="474.8" stroke-width="1.03"/>
<line x1="379.9" y1="412.1" x2="410.9" y2="383.3" stroke-width="1.05"/>
<line x1="386.3" y1="409.6" x2="403.3" y2="393.8" stroke-width="1.05"/>
<line x1="389.0" y1="400.2" x2="404.5" y2="385.8" stroke-width="1.05"/>
<line x1="365.5" y1="437.6" x2="393.2" y2="412.1" stroke-width="1.05"/>
<line x1="371.3" y1="435.6" x2="386.6" y2="421.6" stroke-width="1.05"/>
<line x1="373.5" y1="426.8" x2="387.4" y2="414.1" stroke-width="1.05"/>
<line x1="340.0" y1="447.5" x2="361.0" y2="430.9" stroke-width="1.05"/>
<line x1="344.7" y1="447.0" x2="356.3" y2="437.8" stroke-width="1.05"/>
<line x1="345.8" y1="439.7" x2="356.3" y2="431.4" stroke-width="1.05"/>
<line x1="423.1" y1="409.9" x2="453.0" y2="380.0" stroke-width="1.05"/>
<line x1="429.4" y1="407.2" x2="445.8" y2="390.7" stroke-width="1.05"/>
<line x1="431.8" y1="397.7" x2="446.7" y2="382.7" stroke-width="1.05"/>
<line x1="382.1" y1="448.6" x2="413.1" y2="419.8" stroke-width="1.05"/>
<line x1="388.5" y1="446.1" x2="405.5" y2="430.3" stroke-width="1.05"/>
<line x1="391.2" y1="436.7" x2="406.7" y2="422.3" stroke-width="1.05"/>
<line x1="418.6" y1="434.2" x2="448.6" y2="405.4" stroke-width="1.05"/>
<line x1="424.8" y1="431.7" x2="441.3" y2="415.8" stroke-width="1.05"/>
<line x1="427.4" y1="422.3" x2="442.4" y2="407.9" stroke-width="1.05"/>
<line x1="417.5" y1="456.4" x2="448.6" y2="427.6" stroke-width="1.05"/>
<line x1="423.9" y1="453.9" x2="441.0" y2="438.1" stroke-width="1.05"/>
<line x1="426.7" y1="444.5" x2="442.2" y2="430.1" stroke-width="1.05"/>
<line x1="456.3" y1="417.6" x2="482.2" y2="392.2" stroke-width="1.05"/>
<line x1="461.9" y1="415.6" x2="476.2" y2="401.6" stroke-width="1.05"/>
<line x1="463.6" y1="406.9" x2="476.6" y2="394.2" stroke-width="1.05"/>
<line x1="459.6" y1="436.5" x2="486.6" y2="409.9" stroke-width="1.05"/>
<line x1="465.4" y1="434.3" x2="480.3" y2="419.7" stroke-width="1.05"/>
<line x1="467.3" y1="425.4" x2="480.8" y2="412.1" stroke-width="1.05"/>
<line x1="467.4" y1="458.6" x2="488.8" y2="438.7" stroke-width="1.05"/>
<line x1="472.3" y1="457.4" x2="484.1" y2="446.5" stroke-width="1.05"/>
<line x1="473.2" y1="449.8" x2="483.9" y2="439.9" stroke-width="1.05"/>
<line x1="492.2" y1="433.1" x2="509.9" y2="416.5" stroke-width="1.05"/>
<line x1="496.6" y1="432.4" x2="506.3" y2="423.3" stroke-width="1.05"/>
<line x1="496.7" y1="425.5" x2="505.5" y2="417.2" stroke-width="1.05"/>
<line x1="499.9" y1="455.3" x2="522.1" y2="434.2" stroke-width="1.05"/>
<line x1="505.0" y1="453.9" x2="517.2" y2="442.3" stroke-width="1.05"/>
<line x1="505.9" y1="446.1" x2="517.0" y2="435.6" stroke-width="1.05"/>
<line x1="527.6" y1="463.0" x2="543.1" y2="448.6" stroke-width="1.05"/>
<line x1="531.6" y1="462.7" x2="540.2" y2="454.8" stroke-width="1.05"/>
<line x1="531.3" y1="456.1" x2="539.1" y2="448.9" stroke-width="1.05"/>
<line x1="507.7" y1="386.6" x2="532.0" y2="411.0" stroke-width="1.05"/>
<line x1="509.6" y1="392.0" x2="522.9" y2="405.4" stroke-width="1.05"/>
<line x1="518.0" y1="393.4" x2="530.1" y2="405.6" stroke-width="1.05"/>
<line x1="523.2" y1="415.4" x2="546.4" y2="437.6" stroke-width="1.05"/>
<line x1="525.0" y1="420.5" x2="537.7" y2="432.7" stroke-width="1.05"/>
<line x1="533.0" y1="421.4" x2="544.6" y2="432.5" stroke-width="1.05"/>
<line x1="552.0" y1="430.9" x2="576.3" y2="456.4" stroke-width="1.05"/>
<line x1="553.8" y1="436.4" x2="567.2" y2="450.5" stroke-width="1.05"/>
<line x1="562.3" y1="438.1" x2="574.5" y2="450.9" stroke-width="1.05"/>
<path d="M45.3 579.4 C52 582 57.5 587.5 57.3 593.4 C57 600 52 605 45.3 608.2" stroke-width="1.9" fill="none"/>
<path d="M41.8 588.3 C43.5 588.5 44.3 589.5 43.7 591 C43 593 42.5 595.5 41.5 596.5 C40.5 597.8 38.5 598.2 37.3 597.3 C36.2 596.2 36.4 594.5 37.1 593 C38 591 39 589 40 588.6 C40.7 588.2 41.3 588.2 41.8 588.3 M39.6 598.1 C40.5 598.8 42 599 43.4 599 M40.8 600.3 C39.5 602 38.5 603.5 37.7 604.1 C36 605.5 33.8 606.5 33.2 607.9 C33 609 34.2 609.5 35.1 609.2 C36.5 608.7 38 606.5 38.6 605.4 C39.5 603.5 40.3 601.5 40.8 600.3" stroke-width="1.9" fill="none"/>
<rect x="111.5" y="621.8" width="8.3" height="209" fill="none" stroke-width="1.9"/>
<line x1="125.3" y1="621.8" x2="125.3" y2="778.0" stroke-width="1.4"/>
<rect x="237" y="621.8" width="7.8" height="209" fill="none" stroke-width="1.9"/>
<line x1="232.2" y1="621.8" x2="232.2" y2="778.0" stroke-width="1.4"/>
<line x1="119.8" y1="621.8" x2="237.0" y2="621.8" stroke-width="1.9"/>
<line x1="125.3" y1="651.3" x2="232.2" y2="651.3" stroke-width="1.9"/>
<line x1="120.0" y1="626.0" x2="125.3" y2="626.0" stroke-width="0.9"/>
<line x1="232.2" y1="626.0" x2="237.0" y2="626.0" stroke-width="0.9"/>
<line x1="120.0" y1="633.0" x2="125.3" y2="633.0" stroke-width="0.9"/>
<line x1="232.2" y1="633.0" x2="237.0" y2="633.0" stroke-width="0.9"/>
<line x1="120.0" y1="640.0" x2="125.3" y2="640.0" stroke-width="0.9"/>
<line x1="232.2" y1="640.0" x2="237.0" y2="640.0" stroke-width="0.9"/>
<line x1="120.0" y1="647.0" x2="125.3" y2="647.0" stroke-width="0.9"/>
<line x1="232.2" y1="647.0" x2="237.0" y2="647.0" stroke-width="0.9"/>
<line x1="120.0" y1="654.0" x2="125.3" y2="654.0" stroke-width="0.9"/>
<line x1="232.2" y1="654.0" x2="237.0" y2="654.0" stroke-width="0.9"/>
<line x1="120.0" y1="661.0" x2="125.3" y2="661.0" stroke-width="0.9"/>
<line x1="232.2" y1="661.0" x2="237.0" y2="661.0" stroke-width="0.9"/>
<line x1="120.0" y1="668.0" x2="125.3" y2="668.0" stroke-width="0.9"/>
<line x1="232.2" y1="668.0" x2="237.0" y2="668.0" stroke-width="0.9"/>
<line x1="120.0" y1="675.0" x2="125.3" y2="675.0" stroke-width="0.9"/>
<line x1="232.2" y1="675.0" x2="237.0" y2="675.0" stroke-width="0.9"/>
<line x1="120.0" y1="682.0" x2="125.3" y2="682.0" stroke-width="0.9"/>
<line x1="232.2" y1="682.0" x2="237.0" y2="682.0" stroke-width="0.9"/>
<line x1="120.0" y1="689.0" x2="125.3" y2="689.0" stroke-width="0.9"/>
<line x1="232.2" y1="689.0" x2="237.0" y2="689.0" stroke-width="0.9"/>
<line x1="120.0" y1="696.0" x2="125.3" y2="696.0" stroke-width="0.9"/>
<line x1="232.2" y1="696.0" x2="237.0" y2="696.0" stroke-width="0.9"/>
<line x1="120.0" y1="703.0" x2="125.3" y2="703.0" stroke-width="0.9"/>
<line x1="232.2" y1="703.0" x2="237.0" y2="703.0" stroke-width="0.9"/>
<line x1="120.0" y1="710.0" x2="125.3" y2="710.0" stroke-width="0.9"/>
<line x1="232.2" y1="710.0" x2="237.0" y2="710.0" stroke-width="0.9"/>
<line x1="120.0" y1="717.0" x2="125.3" y2="717.0" stroke-width="0.9"/>
<line x1="232.2" y1="717.0" x2="237.0" y2="717.0" stroke-width="0.9"/>
<line x1="120.0" y1="724.0" x2="125.3" y2="724.0" stroke-width="0.9"/>
<line x1="232.2" y1="724.0" x2="237.0" y2="724.0" stroke-width="0.9"/>
<line x1="120.0" y1="731.0" x2="125.3" y2="731.0" stroke-width="0.9"/>
<line x1="232.2" y1="731.0" x2="237.0" y2="731.0" stroke-width="0.9"/>
<line x1="120.0" y1="738.0" x2="125.3" y2="738.0" stroke-width="0.9"/>
<line x1="232.2" y1="738.0" x2="237.0" y2="738.0" stroke-width="0.9"/>
<line x1="120.0" y1="745.0" x2="125.3" y2="745.0" stroke-width="0.9"/>
<line x1="232.2" y1="745.0" x2="237.0" y2="745.0" stroke-width="0.9"/>
<line x1="120.0" y1="752.0" x2="125.3" y2="752.0" stroke-width="0.9"/>
<line x1="232.2" y1="752.0" x2="237.0" y2="752.0" stroke-width="0.9"/>
<line x1="120.0" y1="759.0" x2="125.3" y2="759.0" stroke-width="0.9"/>
<line x1="232.2" y1="759.0" x2="237.0" y2="759.0" stroke-width="0.9"/>
<line x1="120.0" y1="766.0" x2="125.3" y2="766.0" stroke-width="0.9"/>
<line x1="232.2" y1="766.0" x2="237.0" y2="766.0" stroke-width="0.9"/>
<line x1="120.0" y1="773.0" x2="125.3" y2="773.0" stroke-width="0.9"/>
<line x1="232.2" y1="773.0" x2="237.0" y2="773.0" stroke-width="0.9"/>
<rect x="131.5" y="629.2" width="1.6" height="1.6" fill="#000" stroke="none"/>
<rect x="142.0" y="628.6" width="1.6" height="1.6" fill="#000" stroke="none"/>
<rect x="147.0" y="629.3" width="1.6" height="1.6" fill="#000" stroke="none"/>
<rect x="152.7" y="628.9" width="1.6" height="1.6" fill="#000" stroke="none"/>
<rect x="163.0" y="630.6" width="1.6" height="1.6" fill="#000" stroke="none"/>
<rect x="167.3" y="627.6" width="1.6" height="1.6" fill="#000" stroke="none"/>
<rect x="174.9" y="630.7" width="1.6" height="1.6" fill="#000" stroke="none"/>
<rect x="186.2" y="626.0" width="1.6" height="1.6" fill="#000" stroke="none"/>
<rect x="195.5" y="631.6" width="1.6" height="1.6" fill="#000" stroke="none"/>
<rect x="201.1" y="629.5" width="1.6" height="1.6" fill="#000" stroke="none"/>
<rect x="205.7" y="625.9" width="1.6" height="1.6" fill="#000" stroke="none"/>
<rect x="215.5" y="626.1" width="1.6" height="1.6" fill="#000" stroke="none"/>
<rect x="221.1" y="627.2" width="1.6" height="1.6" fill="#000" stroke="none"/>
<rect x="132.7" y="635.2" width="1.6" height="1.6" fill="#000" stroke="none"/>
<rect x="142.8" y="637.5" width="1.6" height="1.6" fill="#000" stroke="none"/>
<rect x="150.9" y="636.3" width="1.6" height="1.6" fill="#000" stroke="none"/>
<rect x="158.4" y="636.4" width="1.6" height="1.6" fill="#000" stroke="none"/>
<rect x="165.7" y="634.1" width="1.6" height="1.6" fill="#000" stroke="none"/>
<rect x="176.6" y="638.4" width="1.6" height="1.6" fill="#000" stroke="none"/>
<rect x="183.2" y="636.7" width="1.6" height="1.6" fill="#000" stroke="none"/>
<rect x="187.7" y="633.8" width="1.6" height="1.6" fill="#000" stroke="none"/>
<rect x="195.1" y="632.8" width="1.6" height="1.6" fill="#000" stroke="none"/>
<rect x="205.6" y="634.8" width="1.6" height="1.6" fill="#000" stroke="none"/>
<rect x="213.7" y="634.7" width="1.6" height="1.6" fill="#000" stroke="none"/>
<rect x="221.9" y="637.5" width="1.6" height="1.6" fill="#000" stroke="none"/>
<rect x="223.7" y="633.6" width="1.6" height="1.6" fill="#000" stroke="none"/>
<rect x="134.3" y="641.8" width="1.6" height="1.6" fill="#000" stroke="none"/>
<rect x="142.3" y="641.4" width="1.6" height="1.6" fill="#000" stroke="none"/>
<rect x="144.4" y="642.8" width="1.6" height="1.6" fill="#000" stroke="none"/>
<rect x="156.3" y="640.6" width="1.6" height="1.6" fill="#000" stroke="none"/>
<rect x="159.7" y="641.0" width="1.6" height="1.6" fill="#000" stroke="none"/>
<rect x="172.6" y="643.6" width="1.6" height="1.6" fill="#000" stroke="none"/>
<rect x="175.1" y="640.5" width="1.6" height="1.6" fill="#000" stroke="none"/>
<rect x="182.6" y="639.3" width="1.6" height="1.6" fill="#000" stroke="none"/>
<rect x="194.4" y="640.1" width="1.6" height="1.6" fill="#000" stroke="none"/>
<rect x="200.5" y="641.7" width="1.6" height="1.6" fill="#000" stroke="none"/>
<rect x="205.9" y="643.4" width="1.6" height="1.6" fill="#000" stroke="none"/>
<rect x="213.1" y="642.9" width="1.6" height="1.6" fill="#000" stroke="none"/>
<rect x="220.6" y="641.5" width="1.6" height="1.6" fill="#000" stroke="none"/>
<rect x="133.9" y="647.2" width="1.6" height="1.6" fill="#000" stroke="none"/>
<rect x="156.6" y="648.0" width="1.6" height="1.6" fill="#000" stroke="none"/>
<rect x="179.4" y="647.2" width="1.6" height="1.6" fill="#000" stroke="none"/>
<rect x="190.4" y="647.6" width="1.6" height="1.6" fill="#000" stroke="none"/>
<rect x="195.1" y="646.0" width="1.6" height="1.6" fill="#000" stroke="none"/>
<rect x="218.4" y="648.3" width="1.6" height="1.6" fill="#000" stroke="none"/>
<line x1="125.3" y1="680.0" x2="154.0" y2="680.0" stroke-width="1.3"/>
<line x1="125.3" y1="682.5" x2="154.0" y2="682.5" stroke-width="1.0"/>
<rect x="154" y="675.5" width="5.5" height="10.5" rx="1.5" fill="none" stroke-width="1.5"/>
<line x1="125.3" y1="712.3" x2="154.0" y2="712.3" stroke-width="1.3"/>
<line x1="125.3" y1="714.8" x2="154.0" y2="714.8" stroke-width="1.0"/>
<rect x="154" y="707.8" width="5.5" height="10.5" rx="1.5" fill="none" stroke-width="1.5"/>
<line x1="125.3" y1="745.0" x2="154.0" y2="745.0" stroke-width="1.3"/>
<line x1="125.3" y1="747.5" x2="154.0" y2="747.5" stroke-width="1.0"/>
<rect x="154" y="740.5" width="5.5" height="10.5" rx="1.5" fill="none" stroke-width="1.5"/>
<line x1="203.4" y1="681.0" x2="232.2" y2="681.0" stroke-width="1.3"/>
<line x1="203.4" y1="683.5" x2="232.2" y2="683.5" stroke-width="1.0"/>
<rect x="200.6" y="676.0" width="3.5" height="10" fill="none" stroke-width="1.5"/>
<line x1="203.4" y1="712.0" x2="232.2" y2="712.0" stroke-width="1.3"/>
<line x1="203.4" y1="714.5" x2="232.2" y2="714.5" stroke-width="1.0"/>
<rect x="200.6" y="707.0" width="3.5" height="10" fill="none" stroke-width="1.5"/>
<line x1="203.4" y1="744.0" x2="232.2" y2="744.0" stroke-width="1.3"/>
<line x1="203.4" y1="746.5" x2="232.2" y2="746.5" stroke-width="1.0"/>
<rect x="200.6" y="739.0" width="3.5" height="10" fill="none" stroke-width="1.5"/>
<line x1="43.3" y1="689.2" x2="111.5" y2="689.2" stroke-width="1.9"/>
<line x1="45.0" y1="693.0" x2="76.0" y2="693.0" stroke-width="0.9" stroke-dasharray="11 1 6 1.2"/>
<line x1="84.0" y1="693.0" x2="110.0" y2="693.0" stroke-width="0.9" stroke-dasharray="11 1 6 1.2"/>
<line x1="57.0" y1="697.0" x2="90.0" y2="697.0" stroke-width="0.9" stroke-dasharray="11 1 6 1.2"/>
<line x1="44.0" y1="700.7" x2="72.0" y2="700.7" stroke-width="0.9" stroke-dasharray="11 1 6 1.2"/>
<line x1="84.0" y1="700.7" x2="106.0" y2="700.7" stroke-width="0.9" stroke-dasharray="11 1 6 1.2"/>
<line x1="62.0" y1="705.8" x2="88.0" y2="705.8" stroke-width="0.9" stroke-dasharray="11 1 6 1.2"/>
<line x1="53.0" y1="710.3" x2="95.0" y2="710.3" stroke-width="0.9" stroke-dasharray="11 1 6 1.2"/>
<line x1="244.8" y1="690.0" x2="312.4" y2="690.0" stroke-width="1.9"/>
<line x1="250.0" y1="693.8" x2="310.0" y2="693.8" stroke-width="0.9" stroke-dasharray="11 1 6 1.2"/>
<line x1="270.0" y1="697.8" x2="310.0" y2="697.8" stroke-width="0.9" stroke-dasharray="11 1 6 1.2"/>
<line x1="272.0" y1="702.0" x2="300.0" y2="702.0" stroke-width="0.9" stroke-dasharray="11 1 6 1.2"/>
<line x1="270.0" y1="710.5" x2="300.0" y2="710.5" stroke-width="0.9" stroke-dasharray="11 1 6 1.2"/>
<line x1="42.7" y1="778.3" x2="301.3" y2="778.3" stroke-width="1.9"/>
<line x1="43.7" y1="786.3" x2="52.2" y2="779.1" stroke-width="1.15"/>
<line x1="48.5" y1="786.3" x2="57.0" y2="779.1" stroke-width="1.15"/>
<line x1="53.2" y1="786.3" x2="61.7" y2="779.1" stroke-width="1.15"/>
<line x1="60.0" y1="779.1" x2="65.5" y2="784.7" stroke-width="1.03"/>
<line x1="64.1" y1="786.3" x2="72.6" y2="779.1" stroke-width="1.15"/>
<line x1="71.0" y1="779.1" x2="76.5" y2="784.7" stroke-width="1.03"/>
<line x1="74.2" y1="786.3" x2="82.7" y2="779.1" stroke-width="1.15"/>
<line x1="82.0" y1="779.1" x2="87.5" y2="784.7" stroke-width="1.03"/>
<line x1="85.5" y1="786.3" x2="94.0" y2="779.1" stroke-width="1.15"/>
<line x1="92.1" y1="786.3" x2="100.6" y2="779.1" stroke-width="1.15"/>
<line x1="97.5" y1="786.3" x2="106.0" y2="779.1" stroke-width="1.15"/>
<line x1="102.1" y1="786.3" x2="110.6" y2="779.1" stroke-width="1.15"/>
<line x1="129.4" y1="786.3" x2="137.9" y2="779.1" stroke-width="1.15"/>
<line x1="135.5" y1="779.1" x2="141.0" y2="784.7" stroke-width="1.03"/>
<line x1="138.9" y1="786.3" x2="147.4" y2="779.1" stroke-width="1.15"/>
<line x1="144.4" y1="786.3" x2="152.9" y2="779.1" stroke-width="1.15"/>
<line x1="150.1" y1="786.3" x2="158.6" y2="779.1" stroke-width="1.15"/>
<line x1="155.3" y1="786.3" x2="163.8" y2="779.1" stroke-width="1.15"/>
<line x1="161.3" y1="786.3" x2="169.8" y2="779.1" stroke-width="1.15"/>
<line x1="167.1" y1="786.3" x2="175.6" y2="779.1" stroke-width="1.15"/>
<line x1="173.6" y1="786.3" x2="182.1" y2="779.1" stroke-width="1.15"/>
<line x1="178.7" y1="786.3" x2="187.2" y2="779.1" stroke-width="1.15"/>
<line x1="183.4" y1="786.3" x2="191.9" y2="779.1" stroke-width="1.15"/>
<line x1="191.1" y1="779.1" x2="196.6" y2="784.7" stroke-width="1.03"/>
<line x1="195.2" y1="786.3" x2="203.7" y2="779.1" stroke-width="1.15"/>
<line x1="201.1" y1="786.3" x2="209.6" y2="779.1" stroke-width="1.15"/>
<line x1="206.9" y1="786.3" x2="215.4" y2="779.1" stroke-width="1.15"/>
<line x1="212.1" y1="786.3" x2="220.6" y2="779.1" stroke-width="1.15"/>
<line x1="217.9" y1="786.3" x2="226.4" y2="779.1" stroke-width="1.15"/>
<line x1="223.4" y1="786.3" x2="231.9" y2="779.1" stroke-width="1.15"/>
<line x1="248.7" y1="786.3" x2="257.2" y2="779.1" stroke-width="1.15"/>
<line x1="253.8" y1="786.3" x2="262.3" y2="779.1" stroke-width="1.15"/>
<line x1="261.3" y1="779.1" x2="266.8" y2="784.7" stroke-width="1.03"/>
<line x1="265.3" y1="786.3" x2="273.8" y2="779.1" stroke-width="1.15"/>
<line x1="271.6" y1="779.1" x2="277.1" y2="784.7" stroke-width="1.03"/>
<line x1="276.3" y1="786.3" x2="284.8" y2="779.1" stroke-width="1.15"/>
<line x1="281.3" y1="786.3" x2="289.8" y2="779.1" stroke-width="1.15"/>
<line x1="289.2" y1="779.1" x2="294.7" y2="784.7" stroke-width="1.03"/>
<line x1="293.2" y1="786.3" x2="301.7" y2="779.1" stroke-width="1.15"/>
<line x1="130.2" y1="676.1" x2="152.0" y2="653.5" stroke-width="1.05"/>
<line x1="135.4" y1="674.6" x2="147.4" y2="662.2" stroke-width="1.05"/>
<line x1="135.9" y1="666.3" x2="146.8" y2="655.0" stroke-width="1.05"/>
<line x1="157.2" y1="672.6" x2="172.9" y2="657.8" stroke-width="1.05"/>
<line x1="161.4" y1="672.3" x2="170.0" y2="664.2" stroke-width="1.05"/>
<line x1="160.8" y1="665.5" x2="168.7" y2="658.1" stroke-width="1.05"/>
<line x1="160.7" y1="697.0" x2="186.8" y2="669.1" stroke-width="1.05"/>
<line x1="166.6" y1="694.7" x2="180.9" y2="679.3" stroke-width="1.05"/>
<line x1="167.9" y1="685.4" x2="180.9" y2="671.4" stroke-width="1.05"/>
<line x1="185.9" y1="690.0" x2="213.8" y2="661.3" stroke-width="1.05"/>
<line x1="192.0" y1="687.6" x2="207.4" y2="671.8" stroke-width="1.05"/>
<line x1="193.7" y1="678.1" x2="207.7" y2="663.7" stroke-width="1.05"/>
<line x1="126.7" y1="707.4" x2="148.5" y2="686.6" stroke-width="1.05"/>
<line x1="131.8" y1="706.2" x2="143.8" y2="694.8" stroke-width="1.05"/>
<line x1="132.5" y1="698.2" x2="143.4" y2="687.8" stroke-width="1.05"/>
<line x1="180.7" y1="723.1" x2="208.6" y2="693.5" stroke-width="1.05"/>
<line x1="186.8" y1="720.5" x2="202.2" y2="704.2" stroke-width="1.05"/>
<line x1="188.5" y1="710.9" x2="202.5" y2="696.1" stroke-width="1.05"/>
<line x1="144.1" y1="738.8" x2="167.6" y2="715.3" stroke-width="1.05"/>
<line x1="149.5" y1="737.2" x2="162.5" y2="724.3" stroke-width="1.05"/>
<line x1="150.4" y1="728.7" x2="162.2" y2="716.9" stroke-width="1.05"/>
<line x1="172.0" y1="756.2" x2="198.1" y2="729.2" stroke-width="1.05"/>
<line x1="177.9" y1="754.0" x2="192.2" y2="739.2" stroke-width="1.05"/>
<line x1="179.2" y1="744.9" x2="192.2" y2="731.4" stroke-width="1.05"/>
<line x1="135.4" y1="775.3" x2="157.2" y2="754.4" stroke-width="1.05"/>
<line x1="140.5" y1="774.1" x2="152.5" y2="762.6" stroke-width="1.05"/>
<line x1="141.2" y1="766.0" x2="152.1" y2="755.6" stroke-width="1.05"/>
<line x1="192.0" y1="770.1" x2="212.0" y2="749.2" stroke-width="1.05"/>
<line x1="197.0" y1="768.8" x2="208.0" y2="757.3" stroke-width="1.05"/>
<line x1="197.0" y1="760.9" x2="207.0" y2="750.5" stroke-width="1.05"/>
<path d="M355.4 633.7 C362 637 367.5 642 367.4 647.6 C367.2 654 362 659 354.8 662.5" stroke-width="1.9" fill="none"/>
<path d="M347.5 646.7 C350 646.5 354.5 645.8 354.8 644.8 C355 643 354 642.2 352.8 642.2 C351 642.2 349.5 642.6 348.5 644 C347 646 345.9 648.2 346 650 C346.5 652.2 348.5 653 350 652.8 C350.8 652.6 351.3 652.2 351.6 651.7" stroke-width="1.9" fill="none"/>
<polyline points="334.0,778.2 411.0,692.2 415.0,692.2 445.3,665.3 497.7,665.3 527.7,692.3 604.6,776.0" stroke-width="1.9" fill="none"/>
<line x1="411.0" y1="692.3" x2="527.7" y2="692.3" stroke-width="1.9"/>
<rect x="461.8" y="665.3" width="22.2" height="3.4" fill="none" stroke-width="1.2"/>
<rect x="446.2" y="668.5" width="1.3" height="1.3" fill="#000" stroke="none"/>
<rect x="450.8" y="669.5" width="1.3" height="1.3" fill="#000" stroke="none"/>
<rect x="458.9" y="670.3" width="1.3" height="1.3" fill="#000" stroke="none"/>
<rect x="460.8" y="668.8" width="1.3" height="1.3" fill="#000" stroke="none"/>
<rect x="467.1" y="671.5" width="1.3" height="1.3" fill="#000" stroke="none"/>
<rect x="475.7" y="671.2" width="1.3" height="1.3" fill="#000" stroke="none"/>
<rect x="481.4" y="670.9" width="1.3" height="1.3" fill="#000" stroke="none"/>
<rect x="487.6" y="671.2" width="1.3" height="1.3" fill="#000" stroke="none"/>
<rect x="490.2" y="671.4" width="1.3" height="1.3" fill="#000" stroke="none"/>
<rect x="496.8" y="671.0" width="1.3" height="1.3" fill="#000" stroke="none"/>
<rect x="442.1" y="674.6" width="1.3" height="1.3" fill="#000" stroke="none"/>
<rect x="449.4" y="674.3" width="1.3" height="1.3" fill="#000" stroke="none"/>
<rect x="452.9" y="674.7" width="1.3" height="1.3" fill="#000" stroke="none"/>
<rect x="459.0" y="673.5" width="1.3" height="1.3" fill="#000" stroke="none"/>
<rect x="464.5" y="674.1" width="1.3" height="1.3" fill="#000" stroke="none"/>
<rect x="469.6" y="675.4" width="1.3" height="1.3" fill="#000" stroke="none"/>
<rect x="479.2" y="674.2" width="1.3" height="1.3" fill="#000" stroke="none"/>
<rect x="483.8" y="676.7" width="1.3" height="1.3" fill="#000" stroke="none"/>
<rect x="486.4" y="673.1" width="1.3" height="1.3" fill="#000" stroke="none"/>
<rect x="495.5" y="676.3" width="1.3" height="1.3" fill="#000" stroke="none"/>
<rect x="500.4" y="673.2" width="1.3" height="1.3" fill="#000" stroke="none"/>
<rect x="505.0" y="676.4" width="1.3" height="1.3" fill="#000" stroke="none"/>
<rect x="434.1" y="680.7" width="1.3" height="1.3" fill="#000" stroke="none"/>
<rect x="439.7" y="678.7" width="1.3" height="1.3" fill="#000" stroke="none"/>
<rect x="444.6" y="680.5" width="1.3" height="1.3" fill="#000" stroke="none"/>
<rect x="450.0" y="678.4" width="1.3" height="1.3" fill="#000" stroke="none"/>
<rect x="455.4" y="680.3" width="1.3" height="1.3" fill="#000" stroke="none"/>
<rect x="463.3" y="679.8" width="1.3" height="1.3" fill="#000" stroke="none"/>
<rect x="466.6" y="679.4" width="1.3" height="1.3" fill="#000" stroke="none"/>
<rect x="473.6" y="677.8" width="1.3" height="1.3" fill="#000" stroke="none"/>
<rect x="477.7" y="681.9" width="1.3" height="1.3" fill="#000" stroke="none"/>
<rect x="483.9" y="678.8" width="1.3" height="1.3" fill="#000" stroke="none"/>
<rect x="490.2" y="680.1" width="1.3" height="1.3" fill="#000" stroke="none"/>
<rect x="495.0" y="679.5" width="1.3" height="1.3" fill="#000" stroke="none"/>
<rect x="501.9" y="681.2" width="1.3" height="1.3" fill="#000" stroke="none"/>
<rect x="506.0" y="678.9" width="1.3" height="1.3" fill="#000" stroke="none"/>
<rect x="428.2" y="685.6" width="1.3" height="1.3" fill="#000" stroke="none"/>
<rect x="430.9" y="685.4" width="1.3" height="1.3" fill="#000" stroke="none"/>
<rect x="439.2" y="683.5" width="1.3" height="1.3" fill="#000" stroke="none"/>
<rect x="443.6" y="683.9" width="1.3" height="1.3" fill="#000" stroke="none"/>
<rect x="447.7" y="683.6" width="1.3" height="1.3" fill="#000" stroke="none"/>
<rect x="453.2" y="683.9" width="1.3" height="1.3" fill="#000" stroke="none"/>
<rect x="458.1" y="684.1" width="1.3" height="1.3" fill="#000" stroke="none"/>
<rect x="464.0" y="685.7" width="1.3" height="1.3" fill="#000" stroke="none"/>
<rect x="471.9" y="682.3" width="1.3" height="1.3" fill="#000" stroke="none"/>
<rect x="478.4" y="683.2" width="1.3" height="1.3" fill="#000" stroke="none"/>
<rect x="482.7" y="684.8" width="1.3" height="1.3" fill="#000" stroke="none"/>
<rect x="487.7" y="683.6" width="1.3" height="1.3" fill="#000" stroke="none"/>
<rect x="493.8" y="682.9" width="1.3" height="1.3" fill="#000" stroke="none"/>
<rect x="501.4" y="682.8" width="1.3" height="1.3" fill="#000" stroke="none"/>
<rect x="506.8" y="683.3" width="1.3" height="1.3" fill="#000" stroke="none"/>
<rect x="510.1" y="684.1" width="1.3" height="1.3" fill="#000" stroke="none"/>
<rect x="421.8" y="690.9" width="1.3" height="1.3" fill="#000" stroke="none"/>
<rect x="435.0" y="687.8" width="1.3" height="1.3" fill="#000" stroke="none"/>
<rect x="438.2" y="688.3" width="1.3" height="1.3" fill="#000" stroke="none"/>
<rect x="447.7" y="687.9" width="1.3" height="1.3" fill="#000" stroke="none"/>
<rect x="451.6" y="688.9" width="1.3" height="1.3" fill="#000" stroke="none"/>
<rect x="456.7" y="690.8" width="1.3" height="1.3" fill="#000" stroke="none"/>
<rect x="461.7" y="690.5" width="1.3" height="1.3" fill="#000" stroke="none"/>
<rect x="479.7" y="689.8" width="1.3" height="1.3" fill="#000" stroke="none"/>
<rect x="493.1" y="687.7" width="1.3" height="1.3" fill="#000" stroke="none"/>
<rect x="495.3" y="689.6" width="1.3" height="1.3" fill="#000" stroke="none"/>
<rect x="504.0" y="689.6" width="1.3" height="1.3" fill="#000" stroke="none"/>
<rect x="512.9" y="687.6" width="1.3" height="1.3" fill="#000" stroke="none"/>
<rect x="517.5" y="687.4" width="1.3" height="1.3" fill="#000" stroke="none"/>
<line x1="344.8" y1="707.3" x2="397.2" y2="707.3" stroke-width="1.9"/>
<line x1="355.0" y1="710.4" x2="395.0" y2="710.4" stroke-width="0.9" stroke-dasharray="11 1 6 1.2"/>
<line x1="355.0" y1="714.4" x2="383.0" y2="714.4" stroke-width="0.9" stroke-dasharray="11 1 6 1.2"/>
<line x1="347.0" y1="719.2" x2="390.0" y2="719.2" stroke-width="0.9" stroke-dasharray="11 1 6 1.2"/>
<line x1="347.0" y1="725.8" x2="371.0" y2="725.8" stroke-width="0.9" stroke-dasharray="11 1 6 1.2"/>
<line x1="543.0" y1="707.2" x2="602.0" y2="707.2" stroke-width="1.9"/>
<line x1="551.0" y1="710.5" x2="601.0" y2="710.5" stroke-width="0.9" stroke-dasharray="11 1 6 1.2"/>
<line x1="569.0" y1="715.0" x2="594.0" y2="715.0" stroke-width="0.9" stroke-dasharray="11 1 6 1.2"/>
<line x1="560.0" y1="721.5" x2="596.0" y2="721.5" stroke-width="0.9" stroke-dasharray="11 1 6 1.2"/>
<line x1="571.0" y1="727.7" x2="592.0" y2="727.7" stroke-width="0.9" stroke-dasharray="11 1 6 1.2"/>
<line x1="325.0" y1="778.0" x2="623.8" y2="778.0" stroke-width="1.9"/>
<line x1="326.0" y1="787.0" x2="334.5" y2="778.8" stroke-width="1.15"/>
<line x1="331.4" y1="787.0" x2="339.9" y2="778.8" stroke-width="1.15"/>
<line x1="336.4" y1="787.0" x2="344.9" y2="778.8" stroke-width="1.15"/>
<line x1="342.7" y1="787.0" x2="351.2" y2="778.8" stroke-width="1.15"/>
<line x1="347.5" y1="787.0" x2="356.0" y2="778.8" stroke-width="1.15"/>
<line x1="354.3" y1="778.8" x2="359.8" y2="785.2" stroke-width="1.03"/>
<line x1="359.4" y1="787.0" x2="367.9" y2="778.8" stroke-width="1.15"/>
<line x1="364.0" y1="787.0" x2="372.5" y2="778.8" stroke-width="1.15"/>
<line x1="371.3" y1="778.8" x2="376.8" y2="785.2" stroke-width="1.03"/>
<line x1="374.9" y1="787.0" x2="383.4" y2="778.8" stroke-width="1.15"/>
<line x1="380.4" y1="787.0" x2="388.9" y2="778.8" stroke-width="1.15"/>
<line x1="387.9" y1="778.8" x2="393.4" y2="785.2" stroke-width="1.03"/>
<line x1="392.6" y1="787.0" x2="401.1" y2="778.8" stroke-width="1.15"/>
<line x1="399.2" y1="787.0" x2="407.7" y2="778.8" stroke-width="1.15"/>
<line x1="405.3" y1="778.8" x2="410.8" y2="785.2" stroke-width="1.03"/>
<line x1="408.6" y1="787.0" x2="417.1" y2="778.8" stroke-width="1.15"/>
<line x1="415.2" y1="778.8" x2="420.7" y2="785.2" stroke-width="1.03"/>
<line x1="420.2" y1="787.0" x2="428.7" y2="778.8" stroke-width="1.15"/>
<line x1="427.4" y1="778.8" x2="432.9" y2="785.2" stroke-width="1.03"/>
<line x1="430.6" y1="787.0" x2="439.1" y2="778.8" stroke-width="1.15"/>
<line x1="438.4" y1="778.8" x2="443.9" y2="785.2" stroke-width="1.03"/>
<line x1="441.9" y1="787.0" x2="450.4" y2="778.8" stroke-width="1.15"/>
<line x1="446.5" y1="787.0" x2="455.0" y2="778.8" stroke-width="1.15"/>
<line x1="452.8" y1="787.0" x2="461.3" y2="778.8" stroke-width="1.15"/>
<line x1="458.5" y1="787.0" x2="467.0" y2="778.8" stroke-width="1.15"/>
<line x1="463.3" y1="787.0" x2="471.8" y2="778.8" stroke-width="1.15"/>
<line x1="468.6" y1="787.0" x2="477.1" y2="778.8" stroke-width="1.15"/>
<line x1="473.3" y1="787.0" x2="481.8" y2="778.8" stroke-width="1.15"/>
<line x1="479.5" y1="778.8" x2="485.0" y2="785.2" stroke-width="1.03"/>
<line x1="484.3" y1="787.0" x2="492.8" y2="778.8" stroke-width="1.15"/>
<line x1="491.3" y1="778.8" x2="496.8" y2="785.2" stroke-width="1.03"/>
<line x1="494.8" y1="787.0" x2="503.3" y2="778.8" stroke-width="1.15"/>
<line x1="502.2" y1="778.8" x2="507.7" y2="785.2" stroke-width="1.03"/>
<line x1="505.4" y1="787.0" x2="513.9" y2="778.8" stroke-width="1.15"/>
<line x1="510.3" y1="787.0" x2="518.8" y2="778.8" stroke-width="1.15"/>
<line x1="516.6" y1="787.0" x2="525.1" y2="778.8" stroke-width="1.15"/>
<line x1="523.6" y1="778.8" x2="529.1" y2="785.2" stroke-width="1.03"/>
<line x1="527.6" y1="787.0" x2="536.1" y2="778.8" stroke-width="1.15"/>
<line x1="535.2" y1="778.8" x2="540.7" y2="785.2" stroke-width="1.03"/>
<line x1="538.9" y1="787.0" x2="547.4" y2="778.8" stroke-width="1.15"/>
<line x1="544.3" y1="787.0" x2="552.8" y2="778.8" stroke-width="1.15"/>
<line x1="549.7" y1="787.0" x2="558.2" y2="778.8" stroke-width="1.15"/>
<line x1="557.2" y1="778.8" x2="562.7" y2="785.2" stroke-width="1.03"/>
<line x1="561.3" y1="787.0" x2="569.8" y2="778.8" stroke-width="1.15"/>
<line x1="567.0" y1="787.0" x2="575.5" y2="778.8" stroke-width="1.15"/>
<line x1="571.6" y1="787.0" x2="580.1" y2="778.8" stroke-width="1.15"/>
<line x1="578.6" y1="778.8" x2="584.1" y2="785.2" stroke-width="1.03"/>
<line x1="582.5" y1="787.0" x2="591.0" y2="778.8" stroke-width="1.15"/>
<line x1="588.2" y1="787.0" x2="596.7" y2="778.8" stroke-width="1.15"/>
<line x1="594.6" y1="778.8" x2="600.1" y2="785.2" stroke-width="1.03"/>
<line x1="599.7" y1="787.0" x2="608.2" y2="778.8" stroke-width="1.15"/>
<line x1="605.8" y1="778.8" x2="611.3" y2="785.2" stroke-width="1.03"/>
<line x1="610.0" y1="787.0" x2="618.5" y2="778.8" stroke-width="1.15"/>
<line x1="616.2" y1="778.8" x2="621.7" y2="785.2" stroke-width="1.03"/>
<line x1="432.2" y1="718.5" x2="454.0" y2="696.6" stroke-width="1.05"/>
<line x1="437.2" y1="717.0" x2="449.2" y2="704.9" stroke-width="1.05"/>
<line x1="438.1" y1="709.1" x2="449.0" y2="698.1" stroke-width="1.05"/>
<line x1="467.3" y1="726.1" x2="490.1" y2="702.3" stroke-width="1.05"/>
<line x1="472.5" y1="724.3" x2="485.1" y2="711.2" stroke-width="1.05"/>
<line x1="473.5" y1="716.0" x2="484.9" y2="704.1" stroke-width="1.05"/>
<line x1="431.3" y1="740.3" x2="453.1" y2="716.6" stroke-width="1.05"/>
<line x1="436.4" y1="738.4" x2="448.4" y2="725.4" stroke-width="1.05"/>
<line x1="437.1" y1="730.3" x2="448.0" y2="718.5" stroke-width="1.05"/>
<line x1="385.7" y1="743.2" x2="406.6" y2="721.3" stroke-width="1.05"/>
<line x1="390.6" y1="741.6" x2="402.1" y2="729.6" stroke-width="1.05"/>
<line x1="391.2" y1="733.8" x2="401.7" y2="722.9" stroke-width="1.05"/>
<line x1="395.2" y1="759.3" x2="418.9" y2="733.7" stroke-width="1.05"/>
<line x1="400.6" y1="757.2" x2="413.6" y2="743.1" stroke-width="1.05"/>
<line x1="401.7" y1="748.6" x2="413.5" y2="735.8" stroke-width="1.05"/>
<line x1="464.5" y1="752.7" x2="490.1" y2="727.0" stroke-width="1.05"/>
<line x1="470.1" y1="750.6" x2="484.2" y2="736.5" stroke-width="1.05"/>
<line x1="471.7" y1="741.9" x2="484.5" y2="729.1" stroke-width="1.05"/>
<line x1="425.6" y1="768.8" x2="452.1" y2="743.2" stroke-width="1.05"/>
<line x1="431.3" y1="766.8" x2="445.9" y2="752.7" stroke-width="1.05"/>
<line x1="433.1" y1="758.0" x2="446.4" y2="745.2" stroke-width="1.05"/>
<line x1="478.7" y1="765.9" x2="500.0" y2="745.1" stroke-width="1.05"/>
<line x1="483.6" y1="764.6" x2="495.4" y2="753.1" stroke-width="1.05"/>
<line x1="484.4" y1="756.8" x2="495.1" y2="746.4" stroke-width="1.05"/>
<line x1="510.9" y1="730.8" x2="532.7" y2="707.1" stroke-width="1.05"/>
<line x1="516.0" y1="728.9" x2="528.0" y2="715.9" stroke-width="1.05"/>
<line x1="516.7" y1="720.8" x2="527.6" y2="709.0" stroke-width="1.05"/>
<line x1="506.1" y1="759.3" x2="528.9" y2="735.6" stroke-width="1.05"/>
<line x1="511.3" y1="757.5" x2="523.9" y2="744.4" stroke-width="1.05"/>
<line x1="512.3" y1="749.3" x2="523.7" y2="737.4" stroke-width="1.05"/>
<line x1="541.3" y1="748.9" x2="558.4" y2="730.8" stroke-width="1.05"/>
<line x1="545.7" y1="747.9" x2="555.1" y2="737.9" stroke-width="1.05"/>
<line x1="545.5" y1="740.8" x2="554.0" y2="731.8" stroke-width="1.05"/>
<line x1="520.4" y1="773.5" x2="540.3" y2="752.7" stroke-width="1.05"/>
<line x1="525.2" y1="772.1" x2="536.1" y2="760.7" stroke-width="1.05"/>
<line x1="525.6" y1="764.5" x2="535.5" y2="754.1" stroke-width="1.05"/>
<line x1="545.1" y1="770.7" x2="567.8" y2="747.0" stroke-width="1.05"/>
<line x1="550.3" y1="768.9" x2="562.8" y2="755.8" stroke-width="1.05"/>
<line x1="551.2" y1="760.7" x2="562.6" y2="748.8" stroke-width="1.05"/>
<line x1="565.0" y1="773.5" x2="581.1" y2="757.4" stroke-width="1.05"/>
<line x1="569.2" y1="772.9" x2="578.0" y2="764.0" stroke-width="1.05"/>
<line x1="568.9" y1="766.1" x2="576.9" y2="758.0" stroke-width="1.05"/>
<line x1="490.0" y1="756.5" x2="499.5" y2="743.2" stroke-width="1.05"/>
<line x1="493.5" y1="756.0" x2="498.7" y2="748.6" stroke-width="1.05"/>
<line x1="491.3" y1="750.4" x2="496.0" y2="743.7" stroke-width="1.05"/>
</g>
</svg>
</body></html>
